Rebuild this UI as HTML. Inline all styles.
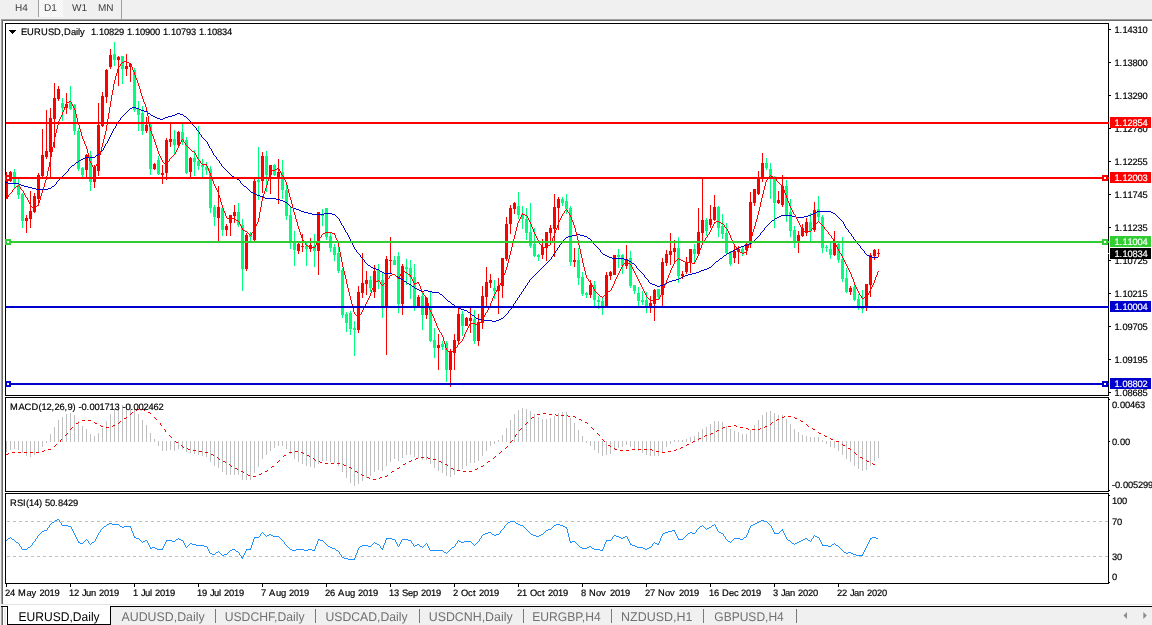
<!DOCTYPE html>
<html lang="en"><head><meta charset="utf-8"><title>EURUSD,Daily</title>
<style>
html,body{margin:0;padding:0;background:#f0f0f0;overflow:hidden}
body{width:1152px;height:625px;position:relative;font-family:"Liberation Sans",sans-serif}
svg{position:absolute;left:0;top:0;display:block}
text{font-family:"Liberation Sans",sans-serif;font-size:9.33px;fill:#000;white-space:pre;stroke:#000;stroke-width:.18px;text-rendering:geometricPrecision}
.wt{fill:#fff;stroke:#fff}
.ax{font-size:9.33px}
.tb{font-size:10px;fill:#3c3c3c;stroke:none}
.tab{font-size:12.6px;fill:#707070;stroke:none}
.tabA{font-size:12.6px;fill:#000;stroke:none}
.w{fill:#fff}
</style></head><body>
<svg width="1152" height="625" viewBox="0 0 1152 625">
<g shape-rendering="crispEdges">
<rect x="0" y="0" width="1152" height="625" fill="#f0f0f0"/>
<rect x="1" y="19" width="1151" height="1" fill="#a0a0a0"/>
<rect x="2" y="20" width="1150" height="1" fill="#696969"/>
<rect x="1" y="19" width="1" height="585" fill="#a0a0a0"/>
<rect x="2" y="20" width="1" height="584" fill="#696969"/>
<rect x="3" y="21" width="1149" height="585" fill="#fff"/>
<rect x="2" y="604" width="1150" height="1" fill="#e3e3e3"/>
<rect x="1" y="605" width="2" height="1" fill="#f0f0f0"/>
<rect x="1" y="606" width="1151" height="1" fill="#000"/>
<rect x="38" y="0" width="1" height="17" fill="#a0a0a0"/>
<defs><pattern id="ck" width="2" height="2" patternUnits="userSpaceOnUse"><rect width="2" height="2" fill="#f0f0f0"/><rect width="1" height="1" fill="#fff"/><rect x="1" y="1" width="1" height="1" fill="#fff"/></pattern></defs>
<rect x="39" y="0" width="24" height="17" fill="url(#ck)"/>
<rect x="121" y="0" width="1" height="19" fill="#a0a0a0"/>
<rect x="1109" y="29" width="2" height="1" fill="#000"/>
<rect x="1109" y="62" width="2" height="1" fill="#000"/>
<rect x="1109" y="95" width="2" height="1" fill="#000"/>
<rect x="1109" y="128" width="2" height="1" fill="#000"/>
<rect x="1109" y="161" width="2" height="1" fill="#000"/>
<rect x="1109" y="194" width="2" height="1" fill="#000"/>
<rect x="1109" y="227" width="2" height="1" fill="#000"/>
<rect x="1109" y="260" width="2" height="1" fill="#000"/>
<rect x="1109" y="293" width="2" height="1" fill="#000"/>
<rect x="1109" y="326" width="2" height="1" fill="#000"/>
<rect x="1109" y="359" width="2" height="1" fill="#000"/>
<rect x="1109" y="392" width="2" height="1" fill="#000"/>
<rect x="1109" y="399" width="1" height="1" fill="#000"/>
<rect x="1109" y="441" width="1" height="1" fill="#000"/>
<rect x="1109" y="490" width="1" height="1" fill="#000"/>
<rect x="1109" y="495" width="1" height="1" fill="#000"/>
<rect x="1109" y="582" width="1" height="1" fill="#000"/>
<rect x="6" y="584" width="1" height="3" fill="#000"/>
<rect x="70" y="584" width="1" height="3" fill="#000"/>
<rect x="134" y="584" width="1" height="3" fill="#000"/>
<rect x="198" y="584" width="1" height="3" fill="#000"/>
<rect x="262" y="584" width="1" height="3" fill="#000"/>
<rect x="326" y="584" width="1" height="3" fill="#000"/>
<rect x="390" y="584" width="1" height="3" fill="#000"/>
<rect x="454" y="584" width="1" height="3" fill="#000"/>
<rect x="518" y="584" width="1" height="3" fill="#000"/>
<rect x="582" y="584" width="1" height="3" fill="#000"/>
<rect x="646" y="584" width="1" height="3" fill="#000"/>
<rect x="710" y="584" width="1" height="3" fill="#000"/>
<rect x="774" y="584" width="1" height="3" fill="#000"/>
<rect x="838" y="584" width="1" height="3" fill="#000"/>
<line x1="7" x2="1108" y1="521.5" y2="521.5" stroke="#c0c0c0" stroke-width="1" stroke-dasharray="3,3"/>
<line x1="7" x2="1108" y1="556.5" y2="556.5" stroke="#c0c0c0" stroke-width="1" stroke-dasharray="3,3"/>
</g>
<g shape-rendering="crispEdges">
<rect x="6" y="441" width="1" height="11" fill="#c0c0c0"/>
<rect x="10" y="441" width="1" height="9" fill="#c0c0c0"/>
<rect x="14" y="441" width="1" height="8" fill="#c0c0c0"/>
<rect x="18" y="441" width="1" height="9" fill="#c0c0c0"/>
<rect x="22" y="441" width="1" height="12" fill="#c0c0c0"/>
<rect x="26" y="441" width="1" height="15" fill="#c0c0c0"/>
<rect x="30" y="441" width="1" height="16" fill="#c0c0c0"/>
<rect x="34" y="441" width="1" height="14" fill="#c0c0c0"/>
<rect x="38" y="441" width="1" height="11" fill="#c0c0c0"/>
<rect x="42" y="441" width="1" height="6" fill="#c0c0c0"/>
<rect x="46" y="441" width="1" height="2" fill="#c0c0c0"/>
<rect x="50" y="434" width="1" height="8" fill="#c0c0c0"/>
<rect x="54" y="427" width="1" height="15" fill="#c0c0c0"/>
<rect x="58" y="420" width="1" height="22" fill="#c0c0c0"/>
<rect x="62" y="417" width="1" height="25" fill="#c0c0c0"/>
<rect x="66" y="414" width="1" height="28" fill="#c0c0c0"/>
<rect x="70" y="413" width="1" height="29" fill="#c0c0c0"/>
<rect x="74" y="415" width="1" height="27" fill="#c0c0c0"/>
<rect x="78" y="421" width="1" height="21" fill="#c0c0c0"/>
<rect x="82" y="426" width="1" height="16" fill="#c0c0c0"/>
<rect x="86" y="429" width="1" height="13" fill="#c0c0c0"/>
<rect x="90" y="434" width="1" height="8" fill="#c0c0c0"/>
<rect x="94" y="436" width="1" height="6" fill="#c0c0c0"/>
<rect x="98" y="433" width="1" height="9" fill="#c0c0c0"/>
<rect x="102" y="428" width="1" height="14" fill="#c0c0c0"/>
<rect x="106" y="421" width="1" height="21" fill="#c0c0c0"/>
<rect x="110" y="414" width="1" height="28" fill="#c0c0c0"/>
<rect x="114" y="410" width="1" height="32" fill="#c0c0c0"/>
<rect x="118" y="406" width="1" height="36" fill="#c0c0c0"/>
<rect x="122" y="405" width="1" height="37" fill="#c0c0c0"/>
<rect x="126" y="404" width="1" height="38" fill="#c0c0c0"/>
<rect x="130" y="404" width="1" height="38" fill="#c0c0c0"/>
<rect x="134" y="409" width="1" height="33" fill="#c0c0c0"/>
<rect x="138" y="414" width="1" height="28" fill="#c0c0c0"/>
<rect x="142" y="420" width="1" height="22" fill="#c0c0c0"/>
<rect x="146" y="425" width="1" height="17" fill="#c0c0c0"/>
<rect x="150" y="433" width="1" height="9" fill="#c0c0c0"/>
<rect x="154" y="439" width="1" height="3" fill="#c0c0c0"/>
<rect x="158" y="441" width="1" height="5" fill="#c0c0c0"/>
<rect x="162" y="441" width="1" height="10" fill="#c0c0c0"/>
<rect x="166" y="441" width="1" height="10" fill="#c0c0c0"/>
<rect x="170" y="441" width="1" height="9" fill="#c0c0c0"/>
<rect x="174" y="441" width="1" height="10" fill="#c0c0c0"/>
<rect x="178" y="441" width="1" height="8" fill="#c0c0c0"/>
<rect x="182" y="441" width="1" height="8" fill="#c0c0c0"/>
<rect x="186" y="441" width="1" height="11" fill="#c0c0c0"/>
<rect x="190" y="441" width="1" height="12" fill="#c0c0c0"/>
<rect x="194" y="441" width="1" height="13" fill="#c0c0c0"/>
<rect x="198" y="441" width="1" height="14" fill="#c0c0c0"/>
<rect x="202" y="441" width="1" height="15" fill="#c0c0c0"/>
<rect x="206" y="441" width="1" height="16" fill="#c0c0c0"/>
<rect x="210" y="441" width="1" height="21" fill="#c0c0c0"/>
<rect x="214" y="441" width="1" height="25" fill="#c0c0c0"/>
<rect x="218" y="441" width="1" height="27" fill="#c0c0c0"/>
<rect x="222" y="441" width="1" height="31" fill="#c0c0c0"/>
<rect x="226" y="441" width="1" height="34" fill="#c0c0c0"/>
<rect x="230" y="441" width="1" height="34" fill="#c0c0c0"/>
<rect x="234" y="441" width="1" height="34" fill="#c0c0c0"/>
<rect x="238" y="441" width="1" height="34" fill="#c0c0c0"/>
<rect x="242" y="441" width="1" height="39" fill="#c0c0c0"/>
<rect x="246" y="441" width="1" height="39" fill="#c0c0c0"/>
<rect x="250" y="441" width="1" height="39" fill="#c0c0c0"/>
<rect x="254" y="441" width="1" height="32" fill="#c0c0c0"/>
<rect x="258" y="441" width="1" height="26" fill="#c0c0c0"/>
<rect x="262" y="441" width="1" height="18" fill="#c0c0c0"/>
<rect x="266" y="441" width="1" height="14" fill="#c0c0c0"/>
<rect x="270" y="441" width="1" height="10" fill="#c0c0c0"/>
<rect x="274" y="441" width="1" height="7" fill="#c0c0c0"/>
<rect x="278" y="441" width="1" height="5" fill="#c0c0c0"/>
<rect x="282" y="441" width="1" height="5" fill="#c0c0c0"/>
<rect x="286" y="441" width="1" height="8" fill="#c0c0c0"/>
<rect x="290" y="441" width="1" height="13" fill="#c0c0c0"/>
<rect x="294" y="441" width="1" height="18" fill="#c0c0c0"/>
<rect x="298" y="441" width="1" height="21" fill="#c0c0c0"/>
<rect x="302" y="441" width="1" height="23" fill="#c0c0c0"/>
<rect x="306" y="441" width="1" height="25" fill="#c0c0c0"/>
<rect x="310" y="441" width="1" height="26" fill="#c0c0c0"/>
<rect x="314" y="441" width="1" height="27" fill="#c0c0c0"/>
<rect x="318" y="441" width="1" height="23" fill="#c0c0c0"/>
<rect x="322" y="441" width="1" height="20" fill="#c0c0c0"/>
<rect x="326" y="441" width="1" height="20" fill="#c0c0c0"/>
<rect x="330" y="441" width="1" height="21" fill="#c0c0c0"/>
<rect x="334" y="441" width="1" height="22" fill="#c0c0c0"/>
<rect x="338" y="441" width="1" height="25" fill="#c0c0c0"/>
<rect x="342" y="441" width="1" height="31" fill="#c0c0c0"/>
<rect x="346" y="441" width="1" height="37" fill="#c0c0c0"/>
<rect x="350" y="441" width="1" height="42" fill="#c0c0c0"/>
<rect x="354" y="441" width="1" height="45" fill="#c0c0c0"/>
<rect x="358" y="441" width="1" height="43" fill="#c0c0c0"/>
<rect x="362" y="441" width="1" height="40" fill="#c0c0c0"/>
<rect x="366" y="441" width="1" height="37" fill="#c0c0c0"/>
<rect x="370" y="441" width="1" height="35" fill="#c0c0c0"/>
<rect x="374" y="441" width="1" height="31" fill="#c0c0c0"/>
<rect x="378" y="441" width="1" height="29" fill="#c0c0c0"/>
<rect x="382" y="441" width="1" height="30" fill="#c0c0c0"/>
<rect x="386" y="441" width="1" height="25" fill="#c0c0c0"/>
<rect x="390" y="441" width="1" height="21" fill="#c0c0c0"/>
<rect x="394" y="441" width="1" height="18" fill="#c0c0c0"/>
<rect x="398" y="441" width="1" height="20" fill="#c0c0c0"/>
<rect x="402" y="441" width="1" height="17" fill="#c0c0c0"/>
<rect x="406" y="441" width="1" height="14" fill="#c0c0c0"/>
<rect x="410" y="441" width="1" height="14" fill="#c0c0c0"/>
<rect x="414" y="441" width="1" height="16" fill="#c0c0c0"/>
<rect x="418" y="441" width="1" height="17" fill="#c0c0c0"/>
<rect x="422" y="441" width="1" height="19" fill="#c0c0c0"/>
<rect x="426" y="441" width="1" height="19" fill="#c0c0c0"/>
<rect x="430" y="441" width="1" height="23" fill="#c0c0c0"/>
<rect x="434" y="441" width="1" height="27" fill="#c0c0c0"/>
<rect x="438" y="441" width="1" height="30" fill="#c0c0c0"/>
<rect x="442" y="441" width="1" height="32" fill="#c0c0c0"/>
<rect x="446" y="441" width="1" height="35" fill="#c0c0c0"/>
<rect x="450" y="441" width="1" height="36" fill="#c0c0c0"/>
<rect x="454" y="441" width="1" height="34" fill="#c0c0c0"/>
<rect x="458" y="441" width="1" height="30" fill="#c0c0c0"/>
<rect x="462" y="441" width="1" height="28" fill="#c0c0c0"/>
<rect x="466" y="441" width="1" height="25" fill="#c0c0c0"/>
<rect x="470" y="441" width="1" height="22" fill="#c0c0c0"/>
<rect x="474" y="441" width="1" height="22" fill="#c0c0c0"/>
<rect x="478" y="441" width="1" height="20" fill="#c0c0c0"/>
<rect x="482" y="441" width="1" height="15" fill="#c0c0c0"/>
<rect x="486" y="441" width="1" height="10" fill="#c0c0c0"/>
<rect x="490" y="441" width="1" height="5" fill="#c0c0c0"/>
<rect x="494" y="441" width="1" height="3" fill="#c0c0c0"/>
<rect x="498" y="440" width="1" height="2" fill="#c0c0c0"/>
<rect x="502" y="435" width="1" height="7" fill="#c0c0c0"/>
<rect x="506" y="428" width="1" height="14" fill="#c0c0c0"/>
<rect x="510" y="420" width="1" height="22" fill="#c0c0c0"/>
<rect x="514" y="414" width="1" height="28" fill="#c0c0c0"/>
<rect x="518" y="410" width="1" height="32" fill="#c0c0c0"/>
<rect x="522" y="408" width="1" height="34" fill="#c0c0c0"/>
<rect x="526" y="409" width="1" height="33" fill="#c0c0c0"/>
<rect x="530" y="411" width="1" height="31" fill="#c0c0c0"/>
<rect x="534" y="414" width="1" height="28" fill="#c0c0c0"/>
<rect x="538" y="417" width="1" height="25" fill="#c0c0c0"/>
<rect x="542" y="419" width="1" height="23" fill="#c0c0c0"/>
<rect x="546" y="419" width="1" height="23" fill="#c0c0c0"/>
<rect x="550" y="418" width="1" height="24" fill="#c0c0c0"/>
<rect x="554" y="416" width="1" height="26" fill="#c0c0c0"/>
<rect x="558" y="413" width="1" height="29" fill="#c0c0c0"/>
<rect x="562" y="412" width="1" height="30" fill="#c0c0c0"/>
<rect x="566" y="412" width="1" height="30" fill="#c0c0c0"/>
<rect x="570" y="418" width="1" height="24" fill="#c0c0c0"/>
<rect x="574" y="423" width="1" height="19" fill="#c0c0c0"/>
<rect x="578" y="430" width="1" height="12" fill="#c0c0c0"/>
<rect x="582" y="436" width="1" height="6" fill="#c0c0c0"/>
<rect x="586" y="441" width="1" height="2" fill="#c0c0c0"/>
<rect x="590" y="441" width="1" height="5" fill="#c0c0c0"/>
<rect x="594" y="441" width="1" height="9" fill="#c0c0c0"/>
<rect x="598" y="441" width="1" height="12" fill="#c0c0c0"/>
<rect x="602" y="441" width="1" height="15" fill="#c0c0c0"/>
<rect x="606" y="441" width="1" height="14" fill="#c0c0c0"/>
<rect x="610" y="441" width="1" height="13" fill="#c0c0c0"/>
<rect x="614" y="441" width="1" height="9" fill="#c0c0c0"/>
<rect x="618" y="441" width="1" height="7" fill="#c0c0c0"/>
<rect x="622" y="441" width="1" height="6" fill="#c0c0c0"/>
<rect x="626" y="441" width="1" height="4" fill="#c0c0c0"/>
<rect x="630" y="441" width="1" height="6" fill="#c0c0c0"/>
<rect x="634" y="441" width="1" height="8" fill="#c0c0c0"/>
<rect x="638" y="441" width="1" height="10" fill="#c0c0c0"/>
<rect x="642" y="441" width="1" height="12" fill="#c0c0c0"/>
<rect x="646" y="441" width="1" height="14" fill="#c0c0c0"/>
<rect x="650" y="441" width="1" height="15" fill="#c0c0c0"/>
<rect x="654" y="441" width="1" height="15" fill="#c0c0c0"/>
<rect x="658" y="441" width="1" height="15" fill="#c0c0c0"/>
<rect x="662" y="441" width="1" height="11" fill="#c0c0c0"/>
<rect x="666" y="441" width="1" height="6" fill="#c0c0c0"/>
<rect x="670" y="441" width="1" height="3" fill="#c0c0c0"/>
<rect x="674" y="440" width="1" height="2" fill="#c0c0c0"/>
<rect x="678" y="440" width="1" height="2" fill="#c0c0c0"/>
<rect x="682" y="440" width="1" height="2" fill="#c0c0c0"/>
<rect x="686" y="439" width="1" height="3" fill="#c0c0c0"/>
<rect x="690" y="437" width="1" height="5" fill="#c0c0c0"/>
<rect x="694" y="436" width="1" height="6" fill="#c0c0c0"/>
<rect x="698" y="432" width="1" height="10" fill="#c0c0c0"/>
<rect x="702" y="429" width="1" height="13" fill="#c0c0c0"/>
<rect x="706" y="427" width="1" height="15" fill="#c0c0c0"/>
<rect x="710" y="424" width="1" height="18" fill="#c0c0c0"/>
<rect x="714" y="421" width="1" height="21" fill="#c0c0c0"/>
<rect x="718" y="421" width="1" height="21" fill="#c0c0c0"/>
<rect x="722" y="422" width="1" height="20" fill="#c0c0c0"/>
<rect x="726" y="426" width="1" height="16" fill="#c0c0c0"/>
<rect x="730" y="429" width="1" height="13" fill="#c0c0c0"/>
<rect x="734" y="431" width="1" height="11" fill="#c0c0c0"/>
<rect x="738" y="432" width="1" height="10" fill="#c0c0c0"/>
<rect x="742" y="434" width="1" height="8" fill="#c0c0c0"/>
<rect x="746" y="434" width="1" height="8" fill="#c0c0c0"/>
<rect x="750" y="430" width="1" height="12" fill="#c0c0c0"/>
<rect x="754" y="425" width="1" height="17" fill="#c0c0c0"/>
<rect x="758" y="420" width="1" height="22" fill="#c0c0c0"/>
<rect x="762" y="415" width="1" height="27" fill="#c0c0c0"/>
<rect x="766" y="412" width="1" height="30" fill="#c0c0c0"/>
<rect x="770" y="411" width="1" height="31" fill="#c0c0c0"/>
<rect x="774" y="413" width="1" height="29" fill="#c0c0c0"/>
<rect x="778" y="415" width="1" height="27" fill="#c0c0c0"/>
<rect x="782" y="415" width="1" height="27" fill="#c0c0c0"/>
<rect x="786" y="419" width="1" height="23" fill="#c0c0c0"/>
<rect x="790" y="424" width="1" height="18" fill="#c0c0c0"/>
<rect x="794" y="429" width="1" height="13" fill="#c0c0c0"/>
<rect x="798" y="432" width="1" height="10" fill="#c0c0c0"/>
<rect x="802" y="435" width="1" height="7" fill="#c0c0c0"/>
<rect x="806" y="436" width="1" height="6" fill="#c0c0c0"/>
<rect x="810" y="437" width="1" height="5" fill="#c0c0c0"/>
<rect x="814" y="437" width="1" height="5" fill="#c0c0c0"/>
<rect x="818" y="437" width="1" height="5" fill="#c0c0c0"/>
<rect x="822" y="440" width="1" height="2" fill="#c0c0c0"/>
<rect x="826" y="441" width="1" height="3" fill="#c0c0c0"/>
<rect x="830" y="441" width="1" height="6" fill="#c0c0c0"/>
<rect x="834" y="441" width="1" height="7" fill="#c0c0c0"/>
<rect x="838" y="441" width="1" height="10" fill="#c0c0c0"/>
<rect x="842" y="441" width="1" height="14" fill="#c0c0c0"/>
<rect x="846" y="441" width="1" height="18" fill="#c0c0c0"/>
<rect x="850" y="441" width="1" height="21" fill="#c0c0c0"/>
<rect x="854" y="441" width="1" height="25" fill="#c0c0c0"/>
<rect x="858" y="441" width="1" height="28" fill="#c0c0c0"/>
<rect x="862" y="441" width="1" height="30" fill="#c0c0c0"/>
<rect x="866" y="441" width="1" height="29" fill="#c0c0c0"/>
<rect x="870" y="441" width="1" height="25" fill="#c0c0c0"/>
<rect x="874" y="441" width="1" height="20" fill="#c0c0c0"/>
<rect x="878" y="441" width="1" height="17" fill="#c0c0c0"/>
<rect x="6" y="172" width="1" height="27" fill="#ff0000"/>
<rect x="5" y="176" width="3" height="23" fill="#ff0000"/>
<rect x="10" y="171" width="1" height="11" fill="#ff0000"/>
<rect x="9" y="172" width="3" height="9" fill="#ff0000"/>
<rect x="14" y="169" width="1" height="19" fill="#00ff7f"/>
<rect x="13" y="172" width="3" height="12" fill="#00ff7f"/>
<rect x="18" y="179" width="1" height="20" fill="#00ff7f"/>
<rect x="17" y="185" width="3" height="10" fill="#00ff7f"/>
<rect x="22" y="193" width="1" height="35" fill="#00ff7f"/>
<rect x="21" y="194" width="3" height="27" fill="#00ff7f"/>
<rect x="26" y="215" width="1" height="18" fill="#ff0000"/>
<rect x="25" y="218" width="3" height="3" fill="#ff0000"/>
<rect x="30" y="191" width="1" height="37" fill="#ff0000"/>
<rect x="29" y="211" width="3" height="8" fill="#ff0000"/>
<rect x="34" y="193" width="1" height="20" fill="#ff0000"/>
<rect x="33" y="196" width="3" height="16" fill="#ff0000"/>
<rect x="38" y="173" width="1" height="33" fill="#ff0000"/>
<rect x="37" y="175" width="3" height="24" fill="#ff0000"/>
<rect x="42" y="129" width="1" height="48" fill="#ff0000"/>
<rect x="41" y="155" width="3" height="21" fill="#ff0000"/>
<rect x="46" y="110" width="1" height="49" fill="#ff0000"/>
<rect x="45" y="151" width="3" height="6" fill="#ff0000"/>
<rect x="50" y="108" width="1" height="69" fill="#ff0000"/>
<rect x="49" y="118" width="3" height="34" fill="#ff0000"/>
<rect x="54" y="83" width="1" height="65" fill="#ff0000"/>
<rect x="53" y="98" width="3" height="21" fill="#ff0000"/>
<rect x="58" y="86" width="1" height="15" fill="#ff0000"/>
<rect x="57" y="89" width="3" height="10" fill="#ff0000"/>
<rect x="62" y="98" width="1" height="23" fill="#00ff7f"/>
<rect x="61" y="103" width="3" height="5" fill="#00ff7f"/>
<rect x="66" y="93" width="1" height="21" fill="#ff0000"/>
<rect x="65" y="104" width="3" height="4" fill="#ff0000"/>
<rect x="70" y="86" width="1" height="24" fill="#00ff7f"/>
<rect x="69" y="102" width="3" height="7" fill="#00ff7f"/>
<rect x="74" y="104" width="1" height="31" fill="#00ff7f"/>
<rect x="73" y="105" width="3" height="26" fill="#00ff7f"/>
<rect x="78" y="128" width="1" height="43" fill="#00ff7f"/>
<rect x="77" y="131" width="3" height="38" fill="#00ff7f"/>
<rect x="82" y="167" width="1" height="10" fill="#00ff7f"/>
<rect x="81" y="168" width="3" height="7" fill="#00ff7f"/>
<rect x="86" y="154" width="1" height="23" fill="#ff0000"/>
<rect x="85" y="155" width="3" height="15" fill="#ff0000"/>
<rect x="90" y="151" width="1" height="40" fill="#00ff7f"/>
<rect x="89" y="155" width="3" height="27" fill="#00ff7f"/>
<rect x="94" y="165" width="1" height="23" fill="#ff0000"/>
<rect x="93" y="167" width="3" height="15" fill="#ff0000"/>
<rect x="98" y="103" width="1" height="73" fill="#ff0000"/>
<rect x="97" y="125" width="3" height="46" fill="#ff0000"/>
<rect x="102" y="92" width="1" height="35" fill="#ff0000"/>
<rect x="101" y="96" width="3" height="30" fill="#ff0000"/>
<rect x="106" y="69" width="1" height="34" fill="#ff0000"/>
<rect x="105" y="70" width="3" height="27" fill="#ff0000"/>
<rect x="110" y="49" width="1" height="20" fill="#ff0000"/>
<rect x="109" y="55" width="3" height="12" fill="#ff0000"/>
<rect x="114" y="42" width="1" height="24" fill="#00ff7f"/>
<rect x="113" y="54" width="3" height="6" fill="#00ff7f"/>
<rect x="118" y="56" width="1" height="30" fill="#ff0000"/>
<rect x="117" y="57" width="3" height="3" fill="#ff0000"/>
<rect x="122" y="56" width="1" height="28" fill="#00ff7f"/>
<rect x="121" y="56" width="3" height="13" fill="#00ff7f"/>
<rect x="126" y="54" width="1" height="22" fill="#ff0000"/>
<rect x="125" y="66" width="3" height="3" fill="#ff0000"/>
<rect x="130" y="63" width="1" height="19" fill="#ff0000"/>
<rect x="129" y="64" width="3" height="3" fill="#ff0000"/>
<rect x="134" y="68" width="1" height="44" fill="#00ff7f"/>
<rect x="133" y="70" width="3" height="40" fill="#00ff7f"/>
<rect x="138" y="101" width="1" height="30" fill="#00ff7f"/>
<rect x="137" y="109" width="3" height="6" fill="#00ff7f"/>
<rect x="142" y="106" width="1" height="29" fill="#00ff7f"/>
<rect x="141" y="113" width="3" height="18" fill="#00ff7f"/>
<rect x="146" y="117" width="1" height="16" fill="#ff0000"/>
<rect x="145" y="125" width="3" height="6" fill="#ff0000"/>
<rect x="150" y="124" width="1" height="51" fill="#00ff7f"/>
<rect x="149" y="125" width="3" height="44" fill="#00ff7f"/>
<rect x="154" y="163" width="1" height="7" fill="#ff0000"/>
<rect x="153" y="164" width="3" height="5" fill="#ff0000"/>
<rect x="158" y="156" width="1" height="19" fill="#00ff7f"/>
<rect x="157" y="160" width="3" height="14" fill="#00ff7f"/>
<rect x="162" y="165" width="1" height="19" fill="#ff0000"/>
<rect x="161" y="173" width="3" height="2" fill="#ff0000"/>
<rect x="166" y="138" width="1" height="42" fill="#ff0000"/>
<rect x="165" y="140" width="3" height="33" fill="#ff0000"/>
<rect x="170" y="124" width="1" height="23" fill="#ff0000"/>
<rect x="169" y="139" width="3" height="3" fill="#ff0000"/>
<rect x="174" y="130" width="1" height="24" fill="#00ff7f"/>
<rect x="173" y="139" width="3" height="6" fill="#00ff7f"/>
<rect x="178" y="131" width="1" height="15" fill="#ff0000"/>
<rect x="177" y="132" width="3" height="13" fill="#ff0000"/>
<rect x="182" y="124" width="1" height="21" fill="#00ff7f"/>
<rect x="181" y="132" width="3" height="8" fill="#00ff7f"/>
<rect x="186" y="137" width="1" height="37" fill="#00ff7f"/>
<rect x="185" y="140" width="3" height="33" fill="#00ff7f"/>
<rect x="190" y="157" width="1" height="22" fill="#ff0000"/>
<rect x="189" y="158" width="3" height="14" fill="#ff0000"/>
<rect x="194" y="150" width="1" height="26" fill="#00ff7f"/>
<rect x="193" y="158" width="3" height="4" fill="#00ff7f"/>
<rect x="198" y="126" width="1" height="44" fill="#00ff7f"/>
<rect x="197" y="161" width="3" height="5" fill="#00ff7f"/>
<rect x="202" y="159" width="1" height="20" fill="#00ff7f"/>
<rect x="201" y="165" width="3" height="2" fill="#00ff7f"/>
<rect x="206" y="162" width="1" height="13" fill="#00ff7f"/>
<rect x="205" y="167" width="3" height="3" fill="#00ff7f"/>
<rect x="210" y="166" width="1" height="47" fill="#00ff7f"/>
<rect x="209" y="169" width="3" height="39" fill="#00ff7f"/>
<rect x="214" y="205" width="1" height="21" fill="#00ff7f"/>
<rect x="213" y="207" width="3" height="10" fill="#00ff7f"/>
<rect x="218" y="186" width="1" height="55" fill="#ff0000"/>
<rect x="217" y="207" width="3" height="11" fill="#ff0000"/>
<rect x="222" y="207" width="1" height="29" fill="#00ff7f"/>
<rect x="221" y="208" width="3" height="22" fill="#00ff7f"/>
<rect x="226" y="224" width="1" height="12" fill="#ff0000"/>
<rect x="225" y="226" width="3" height="4" fill="#ff0000"/>
<rect x="230" y="215" width="1" height="21" fill="#ff0000"/>
<rect x="229" y="215" width="3" height="8" fill="#ff0000"/>
<rect x="234" y="205" width="1" height="18" fill="#ff0000"/>
<rect x="233" y="212" width="3" height="4" fill="#ff0000"/>
<rect x="238" y="203" width="1" height="24" fill="#00ff7f"/>
<rect x="237" y="212" width="3" height="13" fill="#00ff7f"/>
<rect x="242" y="219" width="1" height="72" fill="#00ff7f"/>
<rect x="241" y="225" width="3" height="44" fill="#00ff7f"/>
<rect x="246" y="233" width="1" height="38" fill="#ff0000"/>
<rect x="245" y="235" width="3" height="34" fill="#ff0000"/>
<rect x="250" y="232" width="1" height="9" fill="#00ff7f"/>
<rect x="249" y="234" width="3" height="3" fill="#00ff7f"/>
<rect x="254" y="179" width="1" height="62" fill="#ff0000"/>
<rect x="253" y="181" width="3" height="59" fill="#ff0000"/>
<rect x="258" y="147" width="1" height="53" fill="#00ff7f"/>
<rect x="257" y="180" width="3" height="2" fill="#00ff7f"/>
<rect x="262" y="152" width="1" height="41" fill="#ff0000"/>
<rect x="261" y="156" width="3" height="25" fill="#ff0000"/>
<rect x="266" y="151" width="1" height="41" fill="#00ff7f"/>
<rect x="265" y="156" width="3" height="19" fill="#00ff7f"/>
<rect x="270" y="165" width="1" height="29" fill="#ff0000"/>
<rect x="269" y="165" width="3" height="10" fill="#ff0000"/>
<rect x="274" y="164" width="1" height="12" fill="#00ff7f"/>
<rect x="273" y="165" width="3" height="10" fill="#00ff7f"/>
<rect x="278" y="159" width="1" height="45" fill="#ff0000"/>
<rect x="277" y="172" width="3" height="6" fill="#ff0000"/>
<rect x="282" y="160" width="1" height="39" fill="#00ff7f"/>
<rect x="281" y="172" width="3" height="18" fill="#00ff7f"/>
<rect x="286" y="184" width="1" height="36" fill="#00ff7f"/>
<rect x="285" y="190" width="3" height="26" fill="#00ff7f"/>
<rect x="290" y="206" width="1" height="43" fill="#00ff7f"/>
<rect x="289" y="215" width="3" height="26" fill="#00ff7f"/>
<rect x="294" y="231" width="1" height="35" fill="#00ff7f"/>
<rect x="293" y="243" width="3" height="7" fill="#00ff7f"/>
<rect x="298" y="243" width="1" height="11" fill="#ff0000"/>
<rect x="297" y="244" width="3" height="7" fill="#ff0000"/>
<rect x="302" y="234" width="1" height="18" fill="#ff0000"/>
<rect x="301" y="246" width="3" height="1" fill="#ff0000"/>
<rect x="306" y="243" width="1" height="23" fill="#00ff7f"/>
<rect x="305" y="246" width="3" height="3" fill="#00ff7f"/>
<rect x="310" y="238" width="1" height="14" fill="#ff0000"/>
<rect x="309" y="245" width="3" height="4" fill="#ff0000"/>
<rect x="314" y="234" width="1" height="33" fill="#00ff7f"/>
<rect x="313" y="246" width="3" height="5" fill="#00ff7f"/>
<rect x="318" y="212" width="1" height="63" fill="#ff0000"/>
<rect x="317" y="212" width="3" height="39" fill="#ff0000"/>
<rect x="322" y="209" width="1" height="17" fill="#00ff7f"/>
<rect x="321" y="214" width="3" height="2" fill="#00ff7f"/>
<rect x="326" y="208" width="1" height="32" fill="#00ff7f"/>
<rect x="325" y="208" width="3" height="29" fill="#00ff7f"/>
<rect x="330" y="233" width="1" height="19" fill="#00ff7f"/>
<rect x="329" y="236" width="3" height="12" fill="#00ff7f"/>
<rect x="334" y="244" width="1" height="17" fill="#00ff7f"/>
<rect x="333" y="247" width="3" height="8" fill="#00ff7f"/>
<rect x="338" y="247" width="1" height="26" fill="#00ff7f"/>
<rect x="337" y="253" width="3" height="18" fill="#00ff7f"/>
<rect x="342" y="268" width="1" height="50" fill="#00ff7f"/>
<rect x="341" y="270" width="3" height="45" fill="#00ff7f"/>
<rect x="346" y="312" width="1" height="20" fill="#00ff7f"/>
<rect x="345" y="314" width="3" height="9" fill="#00ff7f"/>
<rect x="350" y="311" width="1" height="24" fill="#00ff7f"/>
<rect x="349" y="313" width="3" height="16" fill="#00ff7f"/>
<rect x="354" y="321" width="1" height="35" fill="#00ff7f"/>
<rect x="353" y="328" width="3" height="2" fill="#00ff7f"/>
<rect x="358" y="286" width="1" height="47" fill="#ff0000"/>
<rect x="357" y="292" width="3" height="38" fill="#ff0000"/>
<rect x="362" y="253" width="1" height="45" fill="#ff0000"/>
<rect x="361" y="283" width="3" height="10" fill="#ff0000"/>
<rect x="366" y="271" width="1" height="24" fill="#ff0000"/>
<rect x="365" y="280" width="3" height="4" fill="#ff0000"/>
<rect x="370" y="276" width="1" height="16" fill="#00ff7f"/>
<rect x="369" y="280" width="3" height="8" fill="#00ff7f"/>
<rect x="374" y="265" width="1" height="33" fill="#ff0000"/>
<rect x="373" y="271" width="3" height="21" fill="#ff0000"/>
<rect x="378" y="264" width="1" height="25" fill="#00ff7f"/>
<rect x="377" y="270" width="3" height="11" fill="#00ff7f"/>
<rect x="382" y="273" width="1" height="45" fill="#00ff7f"/>
<rect x="381" y="280" width="3" height="27" fill="#00ff7f"/>
<rect x="386" y="256" width="1" height="99" fill="#ff0000"/>
<rect x="385" y="259" width="3" height="48" fill="#ff0000"/>
<rect x="390" y="237" width="1" height="36" fill="#ff0000"/>
<rect x="389" y="260" width="3" height="1" fill="#ff0000"/>
<rect x="394" y="256" width="1" height="9" fill="#00ff7f"/>
<rect x="393" y="260" width="3" height="5" fill="#00ff7f"/>
<rect x="398" y="252" width="1" height="61" fill="#00ff7f"/>
<rect x="397" y="256" width="3" height="48" fill="#00ff7f"/>
<rect x="402" y="264" width="1" height="51" fill="#ff0000"/>
<rect x="401" y="266" width="3" height="38" fill="#ff0000"/>
<rect x="406" y="259" width="1" height="26" fill="#00ff7f"/>
<rect x="405" y="267" width="3" height="2" fill="#00ff7f"/>
<rect x="410" y="260" width="1" height="39" fill="#00ff7f"/>
<rect x="409" y="268" width="3" height="9" fill="#00ff7f"/>
<rect x="414" y="264" width="1" height="47" fill="#00ff7f"/>
<rect x="413" y="277" width="3" height="29" fill="#00ff7f"/>
<rect x="418" y="295" width="1" height="13" fill="#ff0000"/>
<rect x="417" y="297" width="3" height="10" fill="#ff0000"/>
<rect x="422" y="292" width="1" height="38" fill="#00ff7f"/>
<rect x="421" y="296" width="3" height="19" fill="#00ff7f"/>
<rect x="426" y="297" width="1" height="22" fill="#ff0000"/>
<rect x="425" y="298" width="3" height="17" fill="#ff0000"/>
<rect x="430" y="292" width="1" height="50" fill="#00ff7f"/>
<rect x="429" y="308" width="3" height="33" fill="#00ff7f"/>
<rect x="434" y="328" width="1" height="30" fill="#00ff7f"/>
<rect x="433" y="340" width="3" height="8" fill="#00ff7f"/>
<rect x="438" y="334" width="1" height="36" fill="#ff0000"/>
<rect x="437" y="345" width="3" height="3" fill="#ff0000"/>
<rect x="442" y="341" width="1" height="9" fill="#00ff7f"/>
<rect x="441" y="344" width="3" height="3" fill="#00ff7f"/>
<rect x="446" y="341" width="1" height="41" fill="#00ff7f"/>
<rect x="445" y="343" width="3" height="27" fill="#00ff7f"/>
<rect x="450" y="349" width="1" height="38" fill="#ff0000"/>
<rect x="449" y="351" width="3" height="19" fill="#ff0000"/>
<rect x="454" y="334" width="1" height="36" fill="#ff0000"/>
<rect x="453" y="340" width="3" height="13" fill="#ff0000"/>
<rect x="458" y="308" width="1" height="36" fill="#ff0000"/>
<rect x="457" y="314" width="3" height="27" fill="#ff0000"/>
<rect x="462" y="311" width="1" height="25" fill="#00ff7f"/>
<rect x="461" y="314" width="3" height="12" fill="#00ff7f"/>
<rect x="466" y="317" width="1" height="9" fill="#ff0000"/>
<rect x="465" y="318" width="3" height="8" fill="#ff0000"/>
<rect x="470" y="308" width="1" height="25" fill="#ff0000"/>
<rect x="469" y="318" width="3" height="3" fill="#ff0000"/>
<rect x="474" y="310" width="1" height="34" fill="#00ff7f"/>
<rect x="473" y="319" width="3" height="22" fill="#00ff7f"/>
<rect x="478" y="314" width="1" height="32" fill="#ff0000"/>
<rect x="477" y="322" width="3" height="19" fill="#ff0000"/>
<rect x="482" y="286" width="1" height="43" fill="#ff0000"/>
<rect x="481" y="296" width="3" height="27" fill="#ff0000"/>
<rect x="486" y="267" width="1" height="39" fill="#ff0000"/>
<rect x="485" y="282" width="3" height="15" fill="#ff0000"/>
<rect x="490" y="274" width="1" height="14" fill="#ff0000"/>
<rect x="489" y="280" width="3" height="3" fill="#ff0000"/>
<rect x="494" y="280" width="1" height="19" fill="#00ff7f"/>
<rect x="493" y="288" width="3" height="3" fill="#00ff7f"/>
<rect x="498" y="278" width="1" height="36" fill="#ff0000"/>
<rect x="497" y="286" width="3" height="5" fill="#ff0000"/>
<rect x="502" y="258" width="1" height="40" fill="#ff0000"/>
<rect x="501" y="258" width="3" height="28" fill="#ff0000"/>
<rect x="506" y="217" width="1" height="44" fill="#ff0000"/>
<rect x="505" y="224" width="3" height="35" fill="#ff0000"/>
<rect x="510" y="205" width="1" height="29" fill="#ff0000"/>
<rect x="509" y="208" width="3" height="16" fill="#ff0000"/>
<rect x="514" y="202" width="1" height="12" fill="#ff0000"/>
<rect x="513" y="203" width="3" height="6" fill="#ff0000"/>
<rect x="518" y="192" width="1" height="27" fill="#00ff7f"/>
<rect x="517" y="206" width="3" height="9" fill="#00ff7f"/>
<rect x="522" y="206" width="1" height="23" fill="#00ff7f"/>
<rect x="521" y="214" width="3" height="5" fill="#00ff7f"/>
<rect x="526" y="208" width="1" height="32" fill="#00ff7f"/>
<rect x="525" y="219" width="3" height="14" fill="#00ff7f"/>
<rect x="530" y="203" width="1" height="45" fill="#00ff7f"/>
<rect x="529" y="232" width="3" height="14" fill="#00ff7f"/>
<rect x="534" y="228" width="1" height="29" fill="#00ff7f"/>
<rect x="533" y="244" width="3" height="12" fill="#00ff7f"/>
<rect x="538" y="254" width="1" height="7" fill="#00ff7f"/>
<rect x="537" y="255" width="3" height="2" fill="#00ff7f"/>
<rect x="542" y="239" width="1" height="20" fill="#ff0000"/>
<rect x="541" y="247" width="3" height="8" fill="#ff0000"/>
<rect x="546" y="232" width="1" height="29" fill="#ff0000"/>
<rect x="545" y="232" width="3" height="16" fill="#ff0000"/>
<rect x="550" y="225" width="1" height="20" fill="#ff0000"/>
<rect x="549" y="228" width="3" height="5" fill="#ff0000"/>
<rect x="554" y="194" width="1" height="63" fill="#ff0000"/>
<rect x="553" y="207" width="3" height="22" fill="#ff0000"/>
<rect x="558" y="197" width="1" height="33" fill="#ff0000"/>
<rect x="557" y="199" width="3" height="9" fill="#ff0000"/>
<rect x="562" y="197" width="1" height="9" fill="#00ff7f"/>
<rect x="561" y="199" width="3" height="4" fill="#00ff7f"/>
<rect x="566" y="194" width="1" height="20" fill="#00ff7f"/>
<rect x="565" y="201" width="3" height="8" fill="#00ff7f"/>
<rect x="570" y="206" width="1" height="60" fill="#00ff7f"/>
<rect x="569" y="208" width="3" height="54" fill="#00ff7f"/>
<rect x="574" y="248" width="1" height="19" fill="#ff0000"/>
<rect x="573" y="260" width="3" height="2" fill="#ff0000"/>
<rect x="578" y="248" width="1" height="37" fill="#00ff7f"/>
<rect x="577" y="260" width="3" height="18" fill="#00ff7f"/>
<rect x="582" y="272" width="1" height="24" fill="#00ff7f"/>
<rect x="581" y="277" width="3" height="17" fill="#00ff7f"/>
<rect x="586" y="292" width="1" height="6" fill="#00ff7f"/>
<rect x="585" y="293" width="3" height="2" fill="#00ff7f"/>
<rect x="590" y="280" width="1" height="18" fill="#ff0000"/>
<rect x="589" y="285" width="3" height="10" fill="#ff0000"/>
<rect x="594" y="281" width="1" height="25" fill="#00ff7f"/>
<rect x="593" y="285" width="3" height="15" fill="#00ff7f"/>
<rect x="598" y="296" width="1" height="13" fill="#00ff7f"/>
<rect x="597" y="300" width="3" height="2" fill="#00ff7f"/>
<rect x="602" y="298" width="1" height="17" fill="#00ff7f"/>
<rect x="601" y="301" width="3" height="5" fill="#00ff7f"/>
<rect x="606" y="272" width="1" height="36" fill="#ff0000"/>
<rect x="605" y="275" width="3" height="32" fill="#ff0000"/>
<rect x="610" y="271" width="1" height="9" fill="#ff0000"/>
<rect x="609" y="272" width="3" height="4" fill="#ff0000"/>
<rect x="614" y="255" width="1" height="20" fill="#ff0000"/>
<rect x="613" y="255" width="3" height="20" fill="#ff0000"/>
<rect x="618" y="249" width="1" height="19" fill="#00ff7f"/>
<rect x="617" y="255" width="3" height="2" fill="#00ff7f"/>
<rect x="622" y="254" width="1" height="20" fill="#00ff7f"/>
<rect x="621" y="255" width="3" height="11" fill="#00ff7f"/>
<rect x="626" y="245" width="1" height="24" fill="#ff0000"/>
<rect x="625" y="259" width="3" height="7" fill="#ff0000"/>
<rect x="630" y="251" width="1" height="37" fill="#00ff7f"/>
<rect x="629" y="258" width="3" height="28" fill="#00ff7f"/>
<rect x="634" y="285" width="1" height="9" fill="#00ff7f"/>
<rect x="633" y="285" width="3" height="6" fill="#00ff7f"/>
<rect x="638" y="287" width="1" height="19" fill="#00ff7f"/>
<rect x="637" y="293" width="3" height="8" fill="#00ff7f"/>
<rect x="642" y="291" width="1" height="14" fill="#00ff7f"/>
<rect x="641" y="300" width="3" height="2" fill="#00ff7f"/>
<rect x="646" y="292" width="1" height="21" fill="#00ff7f"/>
<rect x="645" y="300" width="3" height="7" fill="#00ff7f"/>
<rect x="650" y="296" width="1" height="17" fill="#ff0000"/>
<rect x="649" y="303" width="3" height="5" fill="#ff0000"/>
<rect x="654" y="289" width="1" height="32" fill="#ff0000"/>
<rect x="653" y="290" width="3" height="14" fill="#ff0000"/>
<rect x="658" y="289" width="1" height="10" fill="#00ff7f"/>
<rect x="657" y="289" width="3" height="8" fill="#00ff7f"/>
<rect x="662" y="258" width="1" height="48" fill="#ff0000"/>
<rect x="661" y="262" width="3" height="33" fill="#ff0000"/>
<rect x="666" y="250" width="1" height="16" fill="#ff0000"/>
<rect x="665" y="254" width="3" height="9" fill="#ff0000"/>
<rect x="670" y="233" width="1" height="32" fill="#ff0000"/>
<rect x="669" y="251" width="3" height="4" fill="#ff0000"/>
<rect x="674" y="240" width="1" height="23" fill="#ff0000"/>
<rect x="673" y="248" width="3" height="4" fill="#ff0000"/>
<rect x="678" y="237" width="1" height="46" fill="#00ff7f"/>
<rect x="677" y="248" width="3" height="28" fill="#00ff7f"/>
<rect x="682" y="271" width="1" height="8" fill="#ff0000"/>
<rect x="681" y="274" width="3" height="2" fill="#ff0000"/>
<rect x="686" y="257" width="1" height="17" fill="#ff0000"/>
<rect x="685" y="262" width="3" height="10" fill="#ff0000"/>
<rect x="690" y="249" width="1" height="24" fill="#ff0000"/>
<rect x="689" y="249" width="3" height="14" fill="#ff0000"/>
<rect x="694" y="244" width="1" height="19" fill="#00ff7f"/>
<rect x="693" y="249" width="3" height="5" fill="#00ff7f"/>
<rect x="698" y="208" width="1" height="47" fill="#ff0000"/>
<rect x="697" y="232" width="3" height="22" fill="#ff0000"/>
<rect x="702" y="179" width="1" height="66" fill="#ff0000"/>
<rect x="701" y="220" width="3" height="13" fill="#ff0000"/>
<rect x="706" y="218" width="1" height="18" fill="#00ff7f"/>
<rect x="705" y="220" width="3" height="11" fill="#00ff7f"/>
<rect x="710" y="205" width="1" height="23" fill="#ff0000"/>
<rect x="709" y="219" width="3" height="6" fill="#ff0000"/>
<rect x="714" y="195" width="1" height="26" fill="#ff0000"/>
<rect x="713" y="207" width="3" height="13" fill="#ff0000"/>
<rect x="718" y="206" width="1" height="31" fill="#00ff7f"/>
<rect x="717" y="207" width="3" height="21" fill="#00ff7f"/>
<rect x="722" y="214" width="1" height="25" fill="#00ff7f"/>
<rect x="721" y="226" width="3" height="8" fill="#00ff7f"/>
<rect x="726" y="223" width="1" height="31" fill="#00ff7f"/>
<rect x="725" y="233" width="3" height="20" fill="#00ff7f"/>
<rect x="730" y="251" width="1" height="15" fill="#00ff7f"/>
<rect x="729" y="252" width="3" height="12" fill="#00ff7f"/>
<rect x="734" y="244" width="1" height="19" fill="#ff0000"/>
<rect x="733" y="251" width="3" height="7" fill="#ff0000"/>
<rect x="738" y="246" width="1" height="18" fill="#ff0000"/>
<rect x="737" y="249" width="3" height="3" fill="#ff0000"/>
<rect x="742" y="247" width="1" height="9" fill="#00ff7f"/>
<rect x="741" y="249" width="3" height="4" fill="#00ff7f"/>
<rect x="746" y="243" width="1" height="12" fill="#ff0000"/>
<rect x="745" y="244" width="3" height="6" fill="#ff0000"/>
<rect x="750" y="192" width="1" height="56" fill="#ff0000"/>
<rect x="749" y="202" width="3" height="42" fill="#ff0000"/>
<rect x="754" y="189" width="1" height="17" fill="#ff0000"/>
<rect x="753" y="189" width="3" height="14" fill="#ff0000"/>
<rect x="758" y="171" width="1" height="24" fill="#ff0000"/>
<rect x="757" y="177" width="3" height="17" fill="#ff0000"/>
<rect x="762" y="153" width="1" height="29" fill="#ff0000"/>
<rect x="761" y="163" width="3" height="15" fill="#ff0000"/>
<rect x="766" y="158" width="1" height="12" fill="#00ff7f"/>
<rect x="765" y="163" width="3" height="5" fill="#00ff7f"/>
<rect x="770" y="163" width="1" height="36" fill="#00ff7f"/>
<rect x="769" y="169" width="3" height="9" fill="#00ff7f"/>
<rect x="774" y="176" width="1" height="52" fill="#00ff7f"/>
<rect x="773" y="179" width="3" height="24" fill="#00ff7f"/>
<rect x="778" y="191" width="1" height="13" fill="#ff0000"/>
<rect x="777" y="200" width="3" height="3" fill="#ff0000"/>
<rect x="782" y="175" width="1" height="32" fill="#ff0000"/>
<rect x="781" y="186" width="3" height="19" fill="#ff0000"/>
<rect x="786" y="180" width="1" height="42" fill="#00ff7f"/>
<rect x="785" y="186" width="3" height="30" fill="#00ff7f"/>
<rect x="790" y="199" width="1" height="38" fill="#00ff7f"/>
<rect x="789" y="212" width="3" height="19" fill="#00ff7f"/>
<rect x="794" y="226" width="1" height="22" fill="#00ff7f"/>
<rect x="793" y="230" width="3" height="12" fill="#00ff7f"/>
<rect x="798" y="231" width="1" height="22" fill="#ff0000"/>
<rect x="797" y="235" width="3" height="7" fill="#ff0000"/>
<rect x="802" y="224" width="1" height="13" fill="#ff0000"/>
<rect x="801" y="228" width="3" height="8" fill="#ff0000"/>
<rect x="806" y="218" width="1" height="18" fill="#ff0000"/>
<rect x="805" y="222" width="3" height="11" fill="#ff0000"/>
<rect x="810" y="213" width="1" height="29" fill="#00ff7f"/>
<rect x="809" y="222" width="3" height="9" fill="#00ff7f"/>
<rect x="814" y="202" width="1" height="30" fill="#ff0000"/>
<rect x="813" y="210" width="3" height="20" fill="#ff0000"/>
<rect x="818" y="196" width="1" height="25" fill="#00ff7f"/>
<rect x="817" y="209" width="3" height="8" fill="#00ff7f"/>
<rect x="822" y="215" width="1" height="38" fill="#00ff7f"/>
<rect x="821" y="217" width="3" height="31" fill="#00ff7f"/>
<rect x="826" y="245" width="1" height="7" fill="#00ff7f"/>
<rect x="825" y="247" width="3" height="1" fill="#00ff7f"/>
<rect x="830" y="243" width="1" height="16" fill="#00ff7f"/>
<rect x="829" y="249" width="3" height="6" fill="#00ff7f"/>
<rect x="834" y="231" width="1" height="25" fill="#ff0000"/>
<rect x="833" y="243" width="3" height="12" fill="#ff0000"/>
<rect x="838" y="243" width="1" height="20" fill="#00ff7f"/>
<rect x="837" y="244" width="3" height="16" fill="#00ff7f"/>
<rect x="842" y="237" width="1" height="45" fill="#00ff7f"/>
<rect x="841" y="259" width="3" height="20" fill="#00ff7f"/>
<rect x="846" y="268" width="1" height="25" fill="#00ff7f"/>
<rect x="845" y="278" width="3" height="14" fill="#00ff7f"/>
<rect x="850" y="286" width="1" height="9" fill="#ff0000"/>
<rect x="849" y="288" width="3" height="4" fill="#ff0000"/>
<rect x="854" y="285" width="1" height="16" fill="#00ff7f"/>
<rect x="853" y="287" width="3" height="13" fill="#00ff7f"/>
<rect x="858" y="294" width="1" height="16" fill="#00ff7f"/>
<rect x="857" y="299" width="3" height="8" fill="#00ff7f"/>
<rect x="862" y="290" width="1" height="23" fill="#00ff7f"/>
<rect x="861" y="306" width="3" height="3" fill="#00ff7f"/>
<rect x="866" y="284" width="1" height="27" fill="#ff0000"/>
<rect x="865" y="284" width="3" height="24" fill="#ff0000"/>
<rect x="870" y="253" width="1" height="44" fill="#ff0000"/>
<rect x="869" y="255" width="3" height="30" fill="#ff0000"/>
<rect x="874" y="249" width="1" height="11" fill="#ff0000"/>
<rect x="873" y="250" width="3" height="6" fill="#ff0000"/>
<rect x="878" y="249" width="1" height="8" fill="#ff0000"/>
<rect x="877" y="253" width="3" height="1" fill="#ff0000"/>
</g>
<path d="M6 182h2v1h-2zM8 183h11v1h-11zM19 184h2v1h-2zM21 185h3v1h-3zM24 186h4v1h-4zM28 187h4v1h-4zM32 188h4v1h-4zM36 189h12v1h-12zM48 188h3v1h-3zM51 187h1v1h-1zM52 186h2v1h-2zM54 185h1v1h-1zM55 184h1v1h-1zM56 182h1v2h-1zM57 181h1v1h-1zM58 180h1v1h-1zM59 179h1v1h-1zM60 178h1v1h-1zM61 177h1v1h-1zM62 176h1v1h-1zM63 175h1v1h-1zM64 174h1v1h-1zM65 173h1v1h-1zM66 172h1v1h-1zM67 171h1v1h-1zM68 169h1v2h-1zM69 168h1v1h-1zM70 167h1v1h-1zM71 166h1v1h-1zM72 165h2v1h-2zM74 164h1v1h-1zM75 163h1v1h-1zM76 162h2v1h-2zM78 161h1v1h-1zM79 160h2v1h-2zM81 159h2v1h-2zM83 158h2v1h-2zM85 157h10v1h-10zM95 156h1v1h-1zM96 155h2v1h-2zM98 154h1v1h-1zM99 153h1v1h-1zM100 152h1v1h-1zM101 151h1v1h-1zM102 150h1v1h-1zM103 148h1v2h-1zM104 146h1v2h-1zM105 144h1v2h-1zM106 143h1v1h-1zM107 141h1v2h-1zM108 139h1v2h-1zM109 137h1v2h-1zM110 135h1v2h-1zM111 133h1v2h-1zM112 131h1v2h-1zM113 129h1v2h-1zM114 128h1v1h-1zM115 126h1v2h-1zM116 124h1v2h-1zM117 122h1v2h-1zM118 121h1v1h-1zM119 120h1v1h-1zM120 118h1v2h-1zM121 117h1v1h-1zM122 116h1v1h-1zM123 115h1v1h-1zM124 114h1v1h-1zM125 113h1v1h-1zM126 112h1v1h-1zM127 111h1v1h-1zM128 110h1v1h-1zM129 109h1v1h-1zM130 108h2v1h-2zM132 107h4v1h-4zM136 108h3v1h-3zM139 109h2v1h-2zM141 110h3v1h-3zM144 111h3v1h-3zM147 112h1v1h-1zM148 113h2v1h-2zM150 114h1v1h-1zM151 115h2v1h-2zM153 116h2v1h-2zM155 117h2v1h-2zM157 118h3v1h-3zM160 119h3v1h-3zM163 118h2v1h-2zM165 117h3v1h-3zM168 116h4v1h-4zM172 115h3v1h-3zM175 114h2v1h-2zM177 113h3v1h-3zM180 114h3v1h-3zM183 115h1v1h-1zM184 116h2v1h-2zM186 117h1v1h-1zM187 118h1v1h-1zM188 119h1v1h-1zM189 120h1v1h-1zM190 121h1v1h-1zM191 122h1v1h-1zM192 123h1v2h-1zM193 125h1v1h-1zM194 126h1v1h-1zM195 127h1v1h-1zM196 128h1v2h-1zM197 130h1v1h-1zM198 131h1v1h-1zM199 132h1v2h-1zM200 134h1v1h-1zM201 135h1v2h-1zM202 137h1v1h-1zM203 138h1v1h-1zM204 139h1v1h-1zM205 140h1v1h-1zM206 141h1v1h-1zM207 142h1v2h-1zM208 144h1v2h-1zM209 146h1v2h-1zM210 148h1v1h-1zM211 149h1v2h-1zM212 151h1v2h-1zM213 153h1v2h-1zM214 155h1v1h-1zM215 156h1v1h-1zM216 157h1v2h-1zM217 159h1v1h-1zM218 160h1v1h-1zM219 161h1v2h-1zM220 163h1v1h-1zM221 164h1v2h-1zM222 166h1v1h-1zM223 167h1v1h-1zM224 168h1v1h-1zM225 169h1v1h-1zM226 170h1v1h-1zM227 171h1v1h-1zM228 172h1v1h-1zM229 173h1v1h-1zM230 174h1v1h-1zM231 175h1v1h-1zM232 176h2v1h-2zM234 177h1v1h-1zM235 178h2v1h-2zM237 179h2v1h-2zM239 180h1v1h-1zM240 181h1v2h-1zM241 183h1v1h-1zM242 184h1v1h-1zM243 185h1v1h-1zM244 186h2v1h-2zM246 187h1v1h-1zM247 188h1v1h-1zM248 189h1v1h-1zM249 190h1v1h-1zM250 191h1v1h-1zM251 192h2v1h-2zM253 193h2v1h-2zM255 194h2v1h-2zM257 195h3v1h-3zM260 196h3v1h-3zM263 197h2v1h-2zM265 198h11v1h-11zM276 199h4v1h-4zM280 200h3v1h-3zM283 201h2v1h-2zM285 202h2v1h-2zM287 203h1v1h-1zM288 204h1v1h-1zM289 205h1v1h-1zM290 206h1v1h-1zM291 207h2v1h-2zM293 208h3v1h-3zM296 209h3v1h-3zM299 210h2v1h-2zM301 211h3v1h-3zM304 212h4v1h-4zM308 213h4v1h-4zM312 214h12v1h-12zM324 213h8v1h-8zM332 214h3v1h-3zM335 215h1v1h-1zM336 216h1v1h-1zM337 217h1v1h-1zM338 218h1v1h-1zM339 219h1v2h-1zM340 221h1v2h-1zM341 223h1v2h-1zM342 225h1v1h-1zM343 226h1v2h-1zM344 228h1v2h-1zM345 230h1v2h-1zM346 232h1v1h-1zM347 233h1v2h-1zM348 235h1v2h-1zM349 237h1v2h-1zM350 239h1v2h-1zM351 241h1v2h-1zM352 243h1v2h-1zM353 245h1v2h-1zM354 247h1v2h-1zM355 249h1v1h-1zM356 250h1v2h-1zM357 252h1v1h-1zM358 253h1v1h-1zM359 254h1v1h-1zM360 255h1v2h-1zM361 257h1v1h-1zM362 258h1v1h-1zM363 259h1v1h-1zM364 260h1v2h-1zM365 262h1v1h-1zM366 263h1v1h-1zM367 264h1v1h-1zM368 265h2v1h-2zM370 266h1v1h-1zM371 267h2v1h-2zM373 268h3v1h-3zM376 269h3v1h-3zM379 270h1v1h-1zM380 271h2v1h-2zM382 272h2v1h-2zM384 273h8v1h-8zM392 274h3v1h-3zM395 275h1v1h-1zM396 276h2v1h-2zM398 277h1v1h-1zM399 278h2v1h-2zM401 279h2v1h-2zM403 280h1v1h-1zM404 281h2v1h-2zM406 282h1v1h-1zM407 283h2v1h-2zM409 284h2v1h-2zM411 285h1v1h-1zM412 286h2v1h-2zM414 287h1v1h-1zM415 288h2v1h-2zM417 289h2v1h-2zM419 290h2v1h-2zM421 291h3v1h-3zM424 290h4v1h-4zM428 291h4v1h-4zM432 292h7v1h-7zM439 293h1v1h-1zM440 294h2v1h-2zM442 295h1v1h-1zM443 296h1v1h-1zM444 297h1v1h-1zM445 298h1v1h-1zM446 299h1v1h-1zM447 300h1v1h-1zM448 301h2v1h-2zM450 302h1v1h-1zM451 303h1v1h-1zM452 304h2v1h-2zM454 305h1v1h-1zM455 306h2v1h-2zM457 307h2v1h-2zM459 308h2v1h-2zM461 309h3v1h-3zM464 310h3v1h-3zM467 311h1v1h-1zM468 312h2v1h-2zM470 313h1v1h-1zM471 314h1v1h-1zM472 315h2v1h-2zM474 316h1v1h-1zM475 317h1v1h-1zM476 318h2v1h-2zM478 319h6v1h-6zM484 320h8v1h-8zM492 321h4v1h-4zM496 320h3v1h-3zM499 319h2v1h-2zM501 318h2v1h-2zM503 317h1v1h-1zM504 316h1v1h-1zM505 315h1v1h-1zM506 314h1v1h-1zM507 313h1v1h-1zM508 311h1v2h-1zM509 310h1v1h-1zM510 309h1v1h-1zM511 307h1v2h-1zM512 306h1v1h-1zM513 304h1v2h-1zM514 303h1v1h-1zM515 301h1v2h-1zM516 300h1v1h-1zM517 298h1v2h-1zM518 297h1v1h-1zM519 295h1v2h-1zM520 294h1v1h-1zM521 292h1v2h-1zM522 291h1v1h-1zM523 289h1v2h-1zM524 288h1v1h-1zM525 286h1v2h-1zM526 285h1v1h-1zM527 283h1v2h-1zM528 282h1v1h-1zM529 280h1v2h-1zM530 279h1v1h-1zM531 278h1v1h-1zM532 277h1v1h-1zM533 276h1v1h-1zM534 275h1v1h-1zM535 274h1v1h-1zM536 273h1v1h-1zM537 272h1v1h-1zM538 271h1v1h-1zM539 270h1v1h-1zM540 269h1v1h-1zM541 268h1v1h-1zM542 267h1v1h-1zM543 266h1v1h-1zM544 265h1v1h-1zM545 264h1v1h-1zM546 263h1v1h-1zM547 262h1v1h-1zM548 261h1v1h-1zM549 260h1v1h-1zM550 259h1v1h-1zM551 257h1v2h-1zM552 256h1v1h-1zM553 254h1v2h-1zM554 253h1v1h-1zM555 251h1v2h-1zM556 250h1v1h-1zM557 248h1v2h-1zM558 247h1v1h-1zM559 245h1v2h-1zM560 244h1v1h-1zM561 242h1v2h-1zM562 241h1v1h-1zM563 240h1v1h-1zM564 239h1v1h-1zM565 238h1v1h-1zM566 237h2v1h-2zM568 236h4v1h-4zM572 235h4v1h-4zM576 234h4v1h-4zM580 235h4v1h-4zM584 236h3v1h-3zM587 237h1v1h-1zM588 238h2v1h-2zM590 239h1v1h-1zM591 240h1v1h-1zM592 241h1v2h-1zM593 243h1v1h-1zM594 244h1v1h-1zM595 245h1v1h-1zM596 246h1v1h-1zM597 247h1v1h-1zM598 248h1v1h-1zM599 249h1v1h-1zM600 250h1v2h-1zM601 252h1v1h-1zM602 253h1v1h-1zM603 254h2v1h-2zM605 255h2v1h-2zM607 256h2v1h-2zM609 257h3v1h-3zM612 258h12v1h-12zM624 259h3v1h-3zM627 260h2v1h-2zM629 261h2v1h-2zM631 262h1v1h-1zM632 263h2v1h-2zM634 264h1v1h-1zM635 265h1v1h-1zM636 266h1v2h-1zM637 268h1v1h-1zM638 269h1v1h-1zM639 270h1v1h-1zM640 271h1v1h-1zM641 272h1v1h-1zM642 273h1v1h-1zM643 274h1v1h-1zM644 275h1v2h-1zM645 277h1v1h-1zM646 278h1v1h-1zM647 279h1v1h-1zM648 280h1v2h-1zM649 282h1v1h-1zM650 283h2v1h-2zM652 284h3v1h-3zM655 285h2v1h-2zM657 286h3v1h-3zM660 285h3v1h-3zM663 284h2v1h-2zM665 283h2v1h-2zM667 282h2v1h-2zM669 281h3v1h-3zM672 280h4v1h-4zM676 279h3v1h-3zM679 278h2v1h-2zM681 277h2v1h-2zM683 276h2v1h-2zM685 275h3v1h-3zM688 274h4v1h-4zM692 273h4v1h-4zM696 272h3v1h-3zM699 271h2v1h-2zM701 270h3v1h-3zM704 269h3v1h-3zM707 268h2v1h-2zM709 267h2v1h-2zM711 266h1v1h-1zM712 265h1v1h-1zM713 264h1v1h-1zM714 263h1v1h-1zM715 262h1v1h-1zM716 261h2v1h-2zM718 260h1v1h-1zM719 259h1v1h-1zM720 258h2v1h-2zM722 257h1v1h-1zM723 256h1v1h-1zM724 255h2v1h-2zM726 254h1v1h-1zM727 253h2v1h-2zM729 252h2v1h-2zM731 251h2v1h-2zM733 250h2v1h-2zM735 249h2v1h-2zM737 248h2v1h-2zM739 247h2v1h-2zM741 246h3v1h-3zM744 245h3v1h-3zM747 244h2v1h-2zM749 243h2v1h-2zM751 242h1v1h-1zM752 241h2v1h-2zM754 240h1v1h-1zM755 239h1v1h-1zM756 238h1v1h-1zM757 237h1v1h-1zM758 236h1v1h-1zM759 235h1v1h-1zM760 233h1v2h-1zM761 232h1v1h-1zM762 231h1v1h-1zM763 230h1v1h-1zM764 228h1v2h-1zM765 227h1v1h-1zM766 226h1v1h-1zM767 225h1v1h-1zM768 224h1v1h-1zM769 223h1v1h-1zM770 222h1v1h-1zM771 221h1v1h-1zM772 220h2v1h-2zM774 219h1v1h-1zM775 218h2v1h-2zM777 217h2v1h-2zM779 216h2v1h-2zM781 215h11v1h-11zM792 216h4v1h-4zM796 217h8v1h-8zM804 216h4v1h-4zM808 215h3v1h-3zM811 214h2v1h-2zM813 213h2v1h-2zM815 212h2v1h-2zM817 211h14v1h-14zM831 212h2v1h-2zM833 213h2v1h-2zM835 214h1v1h-1zM836 215h1v1h-1zM837 216h1v1h-1zM838 217h1v1h-1zM839 218h1v1h-1zM840 219h1v1h-1zM841 220h1v1h-1zM842 221h1v1h-1zM843 222h1v2h-1zM844 224h1v2h-1zM845 226h1v2h-1zM846 228h1v1h-1zM847 229h1v1h-1zM848 230h1v2h-1zM849 232h1v1h-1zM850 233h1v1h-1zM851 234h1v2h-1zM852 236h1v1h-1zM853 237h1v2h-1zM854 239h1v1h-1zM855 240h1v1h-1zM856 241h1v2h-1zM857 243h1v1h-1zM858 244h1v1h-1zM859 245h1v1h-1zM860 246h1v2h-1zM861 248h1v1h-1zM862 249h1v1h-1zM863 250h1v1h-1zM864 251h1v2h-1zM865 253h1v1h-1zM866 254h1v1h-1zM867 255h2v1h-2zM869 256h3v1h-3zM872 257h6v1h-6z" fill="#0000cd" shape-rendering="crispEdges"/>
<path d="M6 198h1v1h-1zM7 197h1v1h-1zM8 195h1v2h-1zM9 194h1v1h-1zM10 193h1v1h-1zM11 192h1v1h-1zM12 190h1v2h-1zM13 189h1v1h-1zM14 188h1v1h-1zM15 187h1v1h-1zM16 186h2v1h-2zM18 185h1v1h-1zM19 186h1v1h-1zM20 187h1v2h-1zM21 189h1v1h-1zM22 190h1v1h-1zM23 191h1v2h-1zM24 193h1v2h-1zM25 195h1v2h-1zM26 197h1v1h-1zM27 198h1v2h-1zM28 200h1v2h-1zM29 202h1v2h-1zM30 204h1v2h-1zM31 206h1v1h-1zM32 207h2v1h-2zM34 208h1v1h-1zM35 207h1v1h-1zM36 206h1v1h-1zM37 205h1v1h-1zM38 203h1v2h-1zM39 200h1v3h-1zM40 196h1v4h-1zM41 193h1v3h-1zM42 190h1v3h-1zM43 187h1v3h-1zM44 183h1v4h-1zM45 180h1v3h-1zM46 176h1v4h-1zM47 171h1v5h-1zM48 167h1v4h-1zM49 162h1v5h-1zM50 157h1v5h-1zM51 152h1v5h-1zM52 147h1v5h-1zM53 142h1v5h-1zM54 137h1v5h-1zM55 133h1v4h-1zM56 129h1v4h-1zM57 125h1v4h-1zM58 121h1v4h-1zM59 119h1v2h-1zM60 117h1v2h-1zM61 115h1v2h-1zM62 112h1v3h-1zM63 110h1v2h-1zM64 107h1v3h-1zM65 105h1v2h-1zM66 103h1v2h-1zM67 102h2v1h-2zM69 101h2v1h-2zM71 102h1v2h-1zM72 104h1v2h-1zM73 106h1v2h-1zM74 108h1v2h-1zM75 110h1v4h-1zM76 114h1v4h-1zM77 118h1v4h-1zM78 122h1v3h-1zM79 125h1v4h-1zM80 129h1v3h-1zM81 132h1v4h-1zM82 136h1v3h-1zM83 139h1v2h-1zM84 141h1v3h-1zM85 144h1v2h-1zM86 146h1v3h-1zM87 149h1v4h-1zM88 153h1v4h-1zM89 157h1v4h-1zM90 161h1v2h-1zM91 163h1v2h-1zM92 165h1v2h-1zM93 167h1v1h-1zM93 168h2v1h-2zM94 169h1v1h-1zM95 166h1v2h-1zM96 164h1v2h-1zM97 162h1v2h-1zM98 159h1v3h-1zM99 155h1v4h-1zM100 151h1v4h-1zM101 147h1v4h-1zM102 143h1v4h-1zM103 139h1v4h-1zM104 135h1v4h-1zM105 131h1v4h-1zM106 125h1v6h-1zM107 119h1v6h-1zM108 113h1v6h-1zM109 107h1v6h-1zM110 101h1v6h-1zM111 95h1v6h-1zM112 90h1v5h-1zM113 84h1v6h-1zM114 80h1v4h-1zM115 76h1v4h-1zM116 73h1v3h-1zM117 69h1v4h-1zM118 67h1v2h-1zM119 66h1v1h-1zM120 64h1v2h-1zM121 63h1v1h-1zM122 62h2v1h-2zM124 61h3v1h-3zM127 62h2v1h-2zM129 63h2v1h-2zM130 64h1v1h-1zM131 65h1v2h-1zM132 67h1v3h-1zM133 70h1v2h-1zM134 72h1v3h-1zM135 75h1v3h-1zM136 78h1v2h-1zM137 80h1v3h-1zM138 83h1v3h-1zM139 86h1v3h-1zM140 89h1v4h-1zM141 93h1v3h-1zM142 96h1v3h-1zM143 99h1v3h-1zM144 102h1v2h-1zM145 104h1v3h-1zM146 107h1v4h-1zM147 111h1v5h-1zM148 116h1v6h-1zM149 122h1v5h-1zM150 127h1v4h-1zM151 131h1v3h-1zM152 134h1v2h-1zM153 136h1v3h-1zM154 139h1v3h-1zM155 142h1v3h-1zM156 145h1v3h-1zM157 148h1v3h-1zM158 151h1v3h-1zM159 154h1v2h-1zM160 156h1v2h-1zM161 158h1v2h-1zM162 160h1v2h-1zM163 162h1v1h-1zM164 163h2v1h-2zM166 164h1v1h-1zM167 162h1v2h-1zM168 161h1v1h-1zM169 159h1v2h-1zM170 158h1v1h-1zM171 157h1v1h-1zM172 156h1v1h-1zM173 155h1v1h-1zM174 154h1v1h-1zM175 152h1v2h-1zM176 150h1v2h-1zM177 148h1v2h-1zM178 146h1v2h-1zM179 144h1v2h-1zM180 142h1v2h-1zM181 140h1v2h-1zM182 139h1v1h-1zM183 140h1v2h-1zM184 142h1v1h-1zM185 143h1v2h-1zM186 145h1v1h-1zM187 146h1v1h-1zM188 147h1v1h-1zM189 148h1v1h-1zM190 149h1v1h-1zM191 150h1v1h-1zM192 151h2v1h-2zM194 152h1v1h-1zM195 153h1v2h-1zM196 155h1v2h-1zM197 157h1v2h-1zM198 159h1v1h-1zM199 160h1v1h-1zM200 161h1v2h-1zM201 163h1v1h-1zM202 164h5v1h-5zM206 165h1v1h-1zM207 166h1v2h-1zM208 168h1v3h-1zM209 171h1v2h-1zM210 173h1v3h-1zM211 176h1v3h-1zM212 179h1v2h-1zM213 181h1v3h-1zM214 184h1v2h-1zM215 186h1v2h-1zM216 188h1v2h-1zM217 190h1v2h-1zM218 192h1v3h-1zM219 195h1v3h-1zM220 198h1v4h-1zM221 202h1v3h-1zM222 205h1v3h-1zM223 208h1v3h-1zM224 211h1v2h-1zM225 213h1v3h-1zM226 216h1v2h-1zM227 218h2v1h-2zM229 219h3v1h-3zM232 218h3v1h-3zM235 219h1v1h-1zM236 220h2v1h-2zM238 221h1v1h-1zM239 222h1v2h-1zM240 224h1v2h-1zM241 226h1v2h-1zM242 228h1v2h-1zM243 230h2v1h-2zM245 231h2v1h-2zM247 232h1v1h-1zM248 233h1v1h-1zM249 234h1v1h-1zM250 235h1v1h-1zM251 233h1v2h-1zM252 232h1v1h-1zM253 230h1v2h-1zM254 228h1v2h-1zM255 226h1v2h-1zM256 224h1v2h-1zM257 222h1v2h-1zM258 218h1v4h-1zM259 212h1v6h-1zM260 207h1v5h-1zM261 201h1v6h-1zM262 197h1v4h-1zM263 194h1v3h-1zM264 191h1v3h-1zM265 188h1v3h-1zM266 185h1v3h-1zM267 181h1v4h-1zM268 177h1v4h-1zM269 173h1v4h-1zM270 171h2v1h-2zM270 172h1v1h-1zM272 170h3v1h-3zM275 169h2v1h-2zM277 168h2v1h-2zM279 169h1v2h-1zM280 171h1v2h-1zM281 173h1v2h-1zM282 175h1v1h-1zM283 176h1v2h-1zM284 178h1v2h-1zM285 180h1v2h-1zM286 182h1v3h-1zM287 185h1v4h-1zM288 189h1v4h-1zM289 193h1v4h-1zM290 197h1v3h-1zM291 200h1v4h-1zM292 204h1v4h-1zM293 208h1v4h-1zM294 212h1v3h-1zM295 215h1v4h-1zM296 219h1v3h-1zM297 222h1v4h-1zM298 226h1v3h-1zM299 229h1v3h-1zM300 232h1v3h-1zM301 235h1v3h-1zM302 238h1v2h-1zM303 240h1v2h-1zM304 242h1v1h-1zM305 243h1v2h-1zM306 245h2v1h-2zM308 246h4v1h-4zM312 247h3v1h-3zM315 245h1v2h-1zM316 243h1v2h-1zM317 241h1v2h-1zM318 240h1v1h-1zM319 238h1v2h-1zM320 237h1v1h-1zM321 235h1v2h-1zM322 234h1v1h-1zM323 233h2v1h-2zM325 232h7v1h-7zM332 233h3v1h-3zM334 234h1v1h-1zM335 235h1v3h-1zM336 238h1v2h-1zM337 240h1v3h-1zM338 243h1v4h-1zM339 247h1v5h-1zM340 252h1v5h-1zM341 257h1v5h-1zM342 262h1v5h-1zM343 267h1v4h-1zM344 271h1v4h-1zM345 275h1v4h-1zM346 279h1v5h-1zM347 284h1v4h-1zM348 288h1v4h-1zM349 292h1v4h-1zM350 296h1v4h-1zM351 300h1v4h-1zM352 304h1v4h-1zM353 308h1v4h-1zM354 312h1v2h-1zM355 314h1v1h-1zM356 315h1v1h-1zM357 316h1v1h-1zM358 317h1v1h-1zM359 315h1v2h-1zM360 314h1v1h-1zM361 312h1v2h-1zM362 310h1v2h-1zM363 308h1v2h-1zM364 306h1v2h-1zM365 304h1v2h-1zM366 302h1v2h-1zM367 300h1v2h-1zM368 298h1v2h-1zM369 296h1v2h-1zM370 293h1v3h-1zM371 290h1v3h-1zM372 288h1v2h-1zM373 285h1v3h-1zM374 283h1v2h-1zM375 282h1v1h-1zM376 281h2v1h-2zM378 280h1v1h-1zM379 281h1v1h-1zM380 282h1v2h-1zM381 284h1v1h-1zM382 285h1v1h-1zM383 284h1v1h-1zM384 283h1v1h-1zM385 282h1v1h-1zM386 281h1v1h-1zM387 279h1v2h-1zM388 278h1v1h-1zM389 276h1v2h-1zM390 275h2v1h-2zM392 274h3v1h-3zM395 275h1v1h-1zM396 276h1v1h-1zM397 277h1v1h-1zM398 278h1v1h-1zM399 276h1v2h-1zM400 274h1v2h-1zM401 272h1v2h-1zM402 270h1v1h-1zM402 271h3v1h-3zM405 272h2v1h-2zM407 273h1v1h-1zM408 274h2v1h-2zM410 275h1v2h-1zM411 277h1v2h-1zM412 279h1v2h-1zM413 281h1v2h-1zM414 283h3v1h-3zM414 284h1v1h-1zM417 282h2v1h-2zM418 283h1v1h-1zM419 284h1v2h-1zM420 286h1v3h-1zM421 289h1v2h-1zM422 291h1v2h-1zM423 293h1v2h-1zM424 295h1v1h-1zM425 296h1v2h-1zM426 298h1v2h-1zM427 300h1v3h-1zM428 303h1v4h-1zM429 307h1v3h-1zM430 310h1v2h-1zM431 312h1v2h-1zM432 314h1v2h-1zM433 316h1v2h-1zM434 318h1v3h-1zM435 321h1v2h-1zM436 323h1v3h-1zM437 326h1v2h-1zM438 328h1v2h-1zM439 330h1v2h-1zM440 332h1v1h-1zM441 333h1v2h-1zM442 335h1v2h-1zM443 337h1v4h-1zM444 341h1v3h-1zM445 344h1v4h-1zM446 348h1v2h-1zM447 350h1v1h-1zM448 351h2v1h-2zM450 352h1v1h-1zM451 351h2v1h-2zM453 350h2v1h-2zM455 348h1v2h-1zM456 347h1v1h-1zM457 345h1v2h-1zM458 344h1v1h-1zM459 343h1v1h-1zM460 342h1v1h-1zM461 341h1v1h-1zM462 339h1v2h-1zM463 337h1v2h-1zM464 334h1v3h-1zM465 332h1v2h-1zM466 330h1v2h-1zM467 328h1v2h-1zM468 326h1v2h-1zM469 324h1v2h-1zM470 323h5v1h-5zM475 324h2v1h-2zM477 325h2v1h-2zM479 323h1v2h-1zM480 322h1v1h-1zM481 320h1v2h-1zM482 319h1v1h-1zM483 317h1v2h-1zM484 315h1v2h-1zM485 313h1v2h-1zM486 312h1v1h-1zM487 310h1v2h-1zM488 308h1v2h-1zM489 306h1v2h-1zM490 303h1v3h-1zM491 301h1v2h-1zM492 298h1v3h-1zM493 296h1v2h-1zM494 294h1v2h-1zM495 292h1v2h-1zM496 290h1v2h-1zM497 288h1v2h-1zM498 287h1v1h-1zM499 285h1v2h-1zM500 283h1v2h-1zM501 281h1v2h-1zM502 278h1v3h-1zM503 275h1v3h-1zM504 273h1v2h-1zM505 270h1v3h-1zM506 267h1v3h-1zM507 263h1v4h-1zM508 259h1v4h-1zM509 255h1v4h-1zM510 251h1v4h-1zM511 247h1v4h-1zM512 243h1v4h-1zM513 239h1v4h-1zM514 235h1v4h-1zM515 231h1v4h-1zM516 227h1v4h-1zM517 223h1v4h-1zM518 221h1v2h-1zM519 219h1v2h-1zM520 217h1v2h-1zM521 215h1v2h-1zM522 213h1v1h-1zM522 214h3v1h-3zM525 215h2v1h-2zM527 216h1v2h-1zM528 218h1v2h-1zM529 220h1v2h-1zM530 222h1v2h-1zM531 224h1v3h-1zM532 227h1v2h-1zM533 229h1v3h-1zM534 232h1v2h-1zM535 234h1v2h-1zM536 236h1v2h-1zM537 238h1v2h-1zM538 240h1v2h-1zM539 242h1v2h-1zM540 244h1v1h-1zM541 245h1v2h-1zM542 247h5v1h-5zM547 246h1v1h-1zM548 245h2v1h-2zM550 243h1v2h-1zM551 241h1v2h-1zM552 238h1v3h-1zM553 236h1v2h-1zM554 233h1v3h-1zM555 230h1v3h-1zM556 228h1v2h-1zM557 225h1v3h-1zM558 222h1v3h-1zM559 220h1v2h-1zM560 218h1v2h-1zM561 216h1v2h-1zM562 214h1v2h-1zM563 213h1v1h-1zM564 211h1v2h-1zM565 210h1v1h-1zM566 209h1v1h-1zM567 210h1v2h-1zM568 212h1v1h-1zM569 213h1v2h-1zM570 215h1v2h-1zM571 217h1v3h-1zM572 220h1v2h-1zM573 222h1v3h-1zM574 225h1v3h-1zM575 228h1v4h-1zM576 232h1v4h-1zM577 236h1v4h-1zM578 240h1v5h-1zM579 245h1v4h-1zM580 249h1v5h-1zM581 254h1v4h-1zM582 258h1v5h-1zM583 263h1v4h-1zM584 267h1v4h-1zM585 271h1v4h-1zM586 275h1v3h-1zM587 278h1v1h-1zM588 279h1v2h-1zM589 281h1v1h-1zM590 282h1v1h-1zM591 283h1v2h-1zM592 285h1v2h-1zM593 287h1v2h-1zM594 289h1v2h-1zM595 291h1v1h-1zM596 292h1v1h-1zM597 293h1v1h-1zM598 294h1v1h-1zM599 295h1v1h-1zM600 296h2v1h-2zM602 297h1v1h-1zM603 296h1v1h-1zM604 295h1v1h-1zM605 294h1v1h-1zM606 293h1v1h-1zM607 292h1v1h-1zM608 291h2v1h-2zM610 290h1v1h-1zM611 288h1v2h-1zM612 286h1v2h-1zM613 284h1v2h-1zM614 281h1v3h-1zM615 279h1v2h-1zM616 277h1v2h-1zM617 275h1v2h-1zM618 273h1v2h-1zM619 271h1v2h-1zM620 269h1v2h-1zM621 267h1v2h-1zM622 265h1v2h-1zM623 264h1v1h-1zM624 263h1v1h-1zM625 262h1v1h-1zM626 261h1v1h-1zM627 262h1v1h-1zM628 263h2v1h-2zM630 264h1v1h-1zM631 265h1v2h-1zM632 267h1v2h-1zM633 269h1v2h-1zM634 271h1v2h-1zM635 273h1v2h-1zM636 275h1v2h-1zM637 277h1v2h-1zM638 279h1v2h-1zM639 281h1v2h-1zM640 283h1v2h-1zM641 285h1v2h-1zM642 287h1v2h-1zM643 289h1v2h-1zM644 291h1v2h-1zM645 293h1v2h-1zM646 295h1v2h-1zM647 297h1v1h-1zM648 298h1v1h-1zM649 299h1v1h-1zM650 300h6v1h-6zM656 299h3v1h-3zM659 297h1v2h-1zM660 295h1v2h-1zM661 293h1v2h-1zM662 290h1v3h-1zM663 288h1v2h-1zM664 285h1v3h-1zM665 283h1v2h-1zM666 280h1v3h-1zM667 278h1v2h-1zM668 275h1v3h-1zM669 273h1v2h-1zM670 270h1v3h-1zM671 268h1v2h-1zM672 266h1v2h-1zM673 264h1v2h-1zM674 262h1v2h-1zM675 261h1v1h-1zM676 260h1v1h-1zM677 259h1v1h-1zM678 258h1v1h-1zM679 259h2v1h-2zM681 260h2v1h-2zM683 261h2v1h-2zM685 262h7v1h-7zM692 263h3v1h-3zM694 262h1v1h-1zM695 260h1v2h-1zM696 258h1v2h-1zM697 256h1v2h-1zM698 253h1v3h-1zM699 250h1v3h-1zM700 248h1v2h-1zM701 245h1v3h-1zM702 243h1v2h-1zM703 241h1v2h-1zM704 240h1v1h-1zM705 238h1v2h-1zM706 237h1v1h-1zM707 235h1v2h-1zM708 234h1v1h-1zM709 232h1v2h-1zM710 230h1v2h-1zM711 228h1v2h-1zM712 226h1v2h-1zM713 224h1v2h-1zM714 222h2v1h-2zM714 223h1v1h-1zM716 221h3v1h-3zM719 222h2v1h-2zM721 223h2v1h-2zM723 224h1v1h-1zM724 225h1v2h-1zM725 227h1v1h-1zM726 228h1v1h-1zM727 229h1v2h-1zM728 231h1v2h-1zM729 233h1v2h-1zM730 235h1v3h-1zM731 238h1v2h-1zM732 240h1v2h-1zM733 242h1v2h-1zM734 244h1v2h-1zM735 246h1v1h-1zM736 247h1v2h-1zM737 249h1v1h-1zM738 250h1v1h-1zM739 251h1v1h-1zM740 252h2v1h-2zM742 253h2v1h-2zM744 252h3v1h-3zM746 251h1v1h-1zM747 248h1v3h-1zM748 245h1v3h-1zM749 242h1v3h-1zM750 239h1v3h-1zM751 236h1v3h-1zM752 232h1v4h-1zM753 229h1v3h-1zM754 226h1v3h-1zM755 222h1v4h-1zM756 219h1v3h-1zM757 215h1v4h-1zM758 211h1v4h-1zM759 207h1v4h-1zM760 202h1v5h-1zM761 198h1v4h-1zM762 194h1v4h-1zM763 190h1v4h-1zM764 186h1v4h-1zM765 182h1v4h-1zM766 180h1v2h-1zM767 179h1v1h-1zM768 177h1v2h-1zM769 176h1v1h-1zM770 175h1v1h-1zM771 176h2v1h-2zM773 177h2v1h-2zM775 178h1v1h-1zM776 179h1v2h-1zM777 181h1v1h-1zM778 182h1v1h-1zM779 183h1v1h-1zM780 184h1v1h-1zM781 185h1v1h-1zM782 186h1v2h-1zM783 188h1v2h-1zM784 190h1v3h-1zM785 193h1v2h-1zM786 195h1v3h-1zM787 198h1v3h-1zM788 201h1v2h-1zM789 203h1v3h-1zM790 206h1v2h-1zM791 208h1v2h-1zM792 210h1v2h-1zM793 212h1v2h-1zM794 214h1v1h-1zM795 215h1v2h-1zM796 217h1v2h-1zM797 219h1v2h-1zM798 221h1v2h-1zM799 223h1v2h-1zM800 225h1v2h-1zM801 227h1v2h-1zM802 229h1v1h-1zM802 230h2v1h-2zM804 231h7v1h-7zM811 229h1v2h-1zM812 228h1v1h-1zM813 226h1v2h-1zM814 225h1v1h-1zM815 224h1v1h-1zM816 223h1v1h-1zM817 222h1v1h-1zM818 221h1v1h-1zM819 222h1v1h-1zM820 223h1v1h-1zM821 224h1v1h-1zM822 225h1v1h-1zM823 226h1v1h-1zM824 227h1v2h-1zM825 229h1v1h-1zM826 230h1v1h-1zM827 231h1v1h-1zM828 232h1v2h-1zM829 234h1v1h-1zM830 235h1v1h-1zM831 236h1v2h-1zM832 238h1v1h-1zM833 239h1v2h-1zM834 241h1v2h-1zM835 243h1v2h-1zM836 245h1v2h-1zM837 247h1v2h-1zM838 249h1v2h-1zM839 251h1v2h-1zM840 253h1v1h-1zM841 254h1v2h-1zM842 256h1v2h-1zM843 258h1v2h-1zM844 260h1v2h-1zM845 262h1v2h-1zM846 264h1v2h-1zM847 266h1v2h-1zM848 268h1v2h-1zM849 270h1v2h-1zM850 272h1v2h-1zM851 274h1v3h-1zM852 277h1v2h-1zM853 279h1v3h-1zM854 282h1v3h-1zM855 285h1v2h-1zM856 287h1v2h-1zM857 289h1v2h-1zM858 291h1v2h-1zM859 293h1v2h-1zM860 295h1v1h-1zM861 296h1v2h-1zM862 298h2v1h-2zM864 297h3v1h-3zM867 295h1v2h-1zM868 293h1v2h-1zM869 291h1v2h-1zM870 289h1v2h-1zM871 287h1v2h-1zM872 285h1v2h-1zM873 283h1v2h-1zM874 280h1v3h-1zM875 277h1v3h-1zM876 275h1v2h-1zM877 272h1v3h-1zM878 271h1v1h-1z" fill="#ff0000" shape-rendering="crispEdges"/>
<path d="M6 454h2v1h-2zM8 453h1v1h-1zM12 452h3v1h-3zM18 452h3v1h-3zM24 452h3v1h-3zM30 452h3v1h-3zM36 452h3v1h-3zM42 451h2v1h-2zM44 450h1v1h-1zM48 449h3v1h-3zM54 446h1v1h-1zM55 445h1v1h-1zM56 444h1v1h-1zM60 440h1v2h-1zM61 439h1v1h-1zM65 435h1v1h-1zM66 434h1v1h-1zM67 433h1v1h-1zM70 429h1v1h-1zM71 428h1v1h-1zM72 427h1v1h-1zM76 423h2v1h-2zM78 422h1v1h-1zM82 420h3v1h-3zM88 420h3v1h-3zM94 422h1v1h-1zM95 423h2v1h-2zM100 425h1v1h-1zM101 426h2v1h-2zM106 427h3v1h-3zM112 426h1v1h-1zM113 425h2v1h-2zM118 423h1v1h-1zM119 422h1v1h-1zM120 421h1v1h-1zM124 418h2v1h-2zM126 417h1v1h-1zM130 414h1v1h-1zM131 413h1v1h-1zM132 412h1v1h-1zM136 410h1v1h-1zM137 409h2v1h-2zM142 409h2v1h-2zM144 410h1v1h-1zM148 412h2v1h-2zM150 413h1v1h-1zM154 417h1v1h-1zM155 418h1v1h-1zM156 419h1v1h-1zM160 423h1v2h-1zM161 425h1v1h-1zM164 429h1v1h-1zM165 430h1v2h-1zM169 435h1v1h-1zM170 436h1v1h-1zM171 437h1v1h-1zM175 441h1v1h-1zM176 442h2v1h-2zM181 445h1v1h-1zM182 446h1v1h-1zM183 447h1v1h-1zM187 448h1v1h-1zM188 449h2v1h-2zM193 450h3v1h-3zM199 451h3v1h-3zM205 452h3v1h-3zM211 454h2v1h-2zM213 455h1v1h-1zM217 457h1v1h-1zM218 458h1v1h-1zM219 459h1v1h-1zM223 461h2v1h-2zM225 462h1v1h-1zM229 464h1v1h-1zM230 465h1v1h-1zM231 466h1v1h-1zM235 468h2v1h-2zM237 469h1v1h-1zM241 471h2v1h-2zM243 472h1v1h-1zM247 474h1v1h-1zM248 475h2v1h-2zM253 476h3v1h-3zM259 474h2v1h-2zM261 473h1v1h-1zM265 471h2v1h-2zM267 470h1v1h-1zM271 467h1v1h-1zM272 466h2v1h-2zM277 462h1v1h-1zM278 461h1v1h-1zM279 460h1v1h-1zM283 456h1v1h-1zM284 455h2v1h-2zM289 452h3v1h-3zM295 451h3v1h-3zM301 452h2v1h-2zM303 453h1v1h-1zM307 455h2v1h-2zM309 456h1v1h-1zM313 458h1v1h-1zM314 459h1v1h-1zM315 460h1v1h-1zM319 461h1v1h-1zM320 462h2v1h-2zM325 463h3v1h-3zM331 463h3v1h-3zM337 463h3v1h-3zM343 464h1v1h-1zM344 465h2v1h-2zM349 467h2v1h-2zM351 468h1v1h-1zM355 471h2v1h-2zM357 472h1v1h-1zM361 474h1v1h-1zM362 475h2v1h-2zM367 477h2v1h-2zM369 478h1v1h-1zM373 479h3v1h-3zM379 478h1v1h-1zM380 477h2v1h-2zM385 476h2v1h-2zM387 475h1v1h-1zM391 472h1v1h-1zM392 471h2v1h-2zM397 468h2v1h-2zM399 467h1v1h-1zM403 464h2v1h-2zM405 463h1v1h-1zM409 461h2v1h-2zM411 460h1v1h-1zM415 459h1v1h-1zM416 458h2v1h-2zM421 457h3v1h-3zM427 457h1v1h-1zM428 458h2v1h-2zM433 459h3v1h-3zM439 461h2v1h-2zM441 462h1v1h-1zM445 464h2v1h-2zM447 465h1v1h-1zM451 468h2v1h-2zM453 469h1v1h-1zM457 470h3v1h-3zM463 471h3v1h-3zM469 471h3v1h-3zM475 469h2v1h-2zM477 468h1v1h-1zM481 466h2v1h-2zM483 465h1v1h-1zM487 462h1v1h-1zM488 461h2v1h-2zM493 458h1v1h-1zM494 457h1v1h-1zM495 456h1v1h-1zM499 453h1v1h-1zM500 452h1v1h-1zM501 451h1v1h-1zM505 448h1v1h-1zM506 447h1v1h-1zM507 446h1v1h-1zM510 442h1v1h-1zM511 441h1v1h-1zM512 440h1v1h-1zM515 435h1v2h-1zM516 434h1v1h-1zM519 430h1v1h-1zM520 429h1v1h-1zM521 428h1v1h-1zM525 424h1v1h-1zM526 423h1v1h-1zM527 422h1v1h-1zM531 418h1v1h-1zM532 417h2v1h-2zM537 414h3v1h-3zM543 413h3v1h-3zM549 414h3v1h-3zM555 414h1v1h-1zM556 415h2v1h-2zM561 415h3v1h-3zM567 415h1v1h-1zM568 416h2v1h-2zM573 416h2v1h-2zM575 417h1v1h-1zM579 419h2v1h-2zM581 420h1v1h-1zM585 422h2v1h-2zM587 423h1v1h-1zM591 427h1v1h-1zM592 428h1v1h-1zM593 429h1v1h-1zM597 433h1v1h-1zM598 434h1v1h-1zM599 435h1v1h-1zM602 439h1v1h-1zM603 440h1v1h-1zM604 441h1v1h-1zM608 445h2v1h-2zM610 446h1v1h-1zM614 448h1v1h-1zM615 449h2v1h-2zM620 450h3v1h-3zM626 450h3v1h-3zM632 449h3v1h-3zM638 449h3v1h-3zM644 449h3v1h-3zM650 449h2v1h-2zM652 450h1v1h-1zM656 451h3v1h-3zM662 452h3v1h-3zM668 451h3v1h-3zM674 450h2v1h-2zM676 449h1v1h-1zM680 448h1v1h-1zM681 447h2v1h-2zM686 445h1v1h-1zM687 444h2v1h-2zM692 442h1v1h-1zM693 441h2v1h-2zM698 439h1v1h-1zM699 438h2v1h-2zM704 436h1v1h-1zM705 435h2v1h-2zM710 434h1v1h-1zM711 433h2v1h-2zM716 431h1v1h-1zM717 430h2v1h-2zM722 428h1v1h-1zM723 427h2v1h-2zM728 426h3v1h-3zM734 425h2v1h-2zM736 426h1v1h-1zM740 427h3v1h-3zM746 428h2v1h-2zM748 429h1v1h-1zM752 429h3v1h-3zM758 429h2v1h-2zM760 428h1v1h-1zM764 427h1v1h-1zM765 426h2v1h-2zM770 424h1v1h-1zM771 423h1v1h-1zM772 422h1v1h-1zM776 420h1v1h-1zM777 419h2v1h-2zM782 417h2v1h-2zM784 416h1v1h-1zM788 416h3v1h-3zM794 417h1v1h-1zM795 418h2v1h-2zM800 420h1v1h-1zM801 421h2v1h-2zM806 424h1v1h-1zM807 425h1v1h-1zM808 426h1v1h-1zM812 428h1v1h-1zM813 429h2v1h-2zM818 432h1v1h-1zM819 433h2v1h-2zM824 435h1v1h-1zM825 436h2v1h-2zM830 438h1v1h-1zM831 439h2v1h-2zM836 441h3v1h-3zM842 444h1v1h-1zM843 445h2v1h-2zM848 448h2v1h-2zM850 449h1v1h-1zM854 452h1v1h-1zM855 453h1v1h-1zM856 454h1v1h-1zM860 457h2v1h-2zM862 458h1v1h-1zM866 460h1v1h-1zM867 461h2v1h-2zM872 463h1v1h-1zM873 464h2v1h-2z" fill="#ff0000" shape-rendering="crispEdges"/>
<path d="M6 540h1v1h-1zM7 539h1v1h-1zM8 538h2v1h-2zM10 537h1v1h-1zM11 538h1v1h-1zM12 539h2v1h-2zM14 540h1v1h-1zM15 541h1v1h-1zM16 542h2v1h-2zM18 543h1v1h-1zM19 544h1v2h-1zM20 546h1v1h-1zM21 547h1v2h-1zM22 549h5v1h-5zM27 548h1v1h-1zM28 547h2v1h-2zM30 546h1v1h-1zM31 545h1v1h-1zM32 543h1v2h-1zM33 542h1v1h-1zM34 541h1v1h-1zM35 539h1v2h-1zM36 538h1v1h-1zM37 536h1v2h-1zM38 535h1v1h-1zM39 534h1v1h-1zM40 533h1v1h-1zM41 532h1v1h-1zM42 531h2v1h-2zM44 530h3v1h-3zM47 528h1v2h-1zM48 527h1v1h-1zM49 525h1v2h-1zM50 524h1v1h-1zM51 523h1v1h-1zM52 522h2v1h-2zM54 521h1v1h-1zM55 520h2v1h-2zM57 519h2v1h-2zM59 520h1v2h-1zM60 522h1v1h-1zM61 523h1v2h-1zM62 525h6v1h-6zM68 526h3v1h-3zM71 527h1v2h-1zM72 529h1v2h-1zM73 531h1v2h-1zM74 533h1v2h-1zM75 535h1v2h-1zM76 537h1v2h-1zM77 539h1v2h-1zM78 541h1v1h-1zM78 542h2v1h-2zM80 543h3v1h-3zM83 542h1v1h-1zM84 541h1v1h-1zM85 540h1v1h-1zM86 539h1v1h-1zM87 540h1v1h-1zM88 541h1v2h-1zM89 543h1v1h-1zM90 544h1v1h-1zM91 543h1v1h-1zM92 542h2v1h-2zM94 541h1v1h-1zM95 539h1v2h-1zM96 537h1v2h-1zM97 535h1v2h-1zM98 533h1v2h-1zM99 532h1v1h-1zM100 530h1v2h-1zM101 529h1v1h-1zM102 528h1v1h-1zM103 527h1v1h-1zM104 526h2v1h-2zM106 525h1v1h-1zM107 524h2v1h-2zM109 523h3v1h-3zM112 524h7v1h-7zM119 525h1v1h-1zM120 526h2v1h-2zM122 527h2v1h-2zM124 526h7v1h-7zM130 527h1v1h-1zM131 528h1v3h-1zM132 531h1v2h-1zM133 533h1v3h-1zM134 536h1v1h-1zM134 537h2v1h-2zM136 538h3v1h-3zM139 539h1v1h-1zM140 540h1v1h-1zM141 541h1v1h-1zM142 542h1v1h-1zM143 541h2v1h-2zM145 540h2v1h-2zM147 541h1v2h-1zM148 543h1v2h-1zM149 545h1v2h-1zM150 547h1v1h-1zM150 548h2v1h-2zM152 547h3v1h-3zM155 548h2v1h-2zM157 549h6v1h-6zM162 548h1v1h-1zM163 546h1v2h-1zM164 544h1v2h-1zM165 542h1v2h-1zM166 540h6v1h-6zM166 541h1v1h-1zM172 541h3v1h-3zM175 540h1v1h-1zM176 539h2v1h-2zM178 538h1v1h-1zM179 539h2v1h-2zM181 540h2v1h-2zM183 541h1v2h-1zM184 543h1v2h-1zM185 545h1v2h-1zM186 547h1v1h-1zM187 546h1v1h-1zM188 545h1v1h-1zM189 544h1v1h-1zM190 543h2v1h-2zM192 544h4v1h-4zM196 545h8v1h-8zM204 546h3v1h-3zM207 547h1v2h-1zM208 549h1v2h-1zM209 551h1v2h-1zM210 553h2v1h-2zM212 554h3v1h-3zM215 553h1v1h-1zM216 552h2v1h-2zM218 551h1v1h-1zM219 552h1v1h-1zM220 553h1v1h-1zM221 554h1v1h-1zM222 555h2v1h-2zM224 554h3v1h-3zM227 553h1v1h-1zM228 552h1v1h-1zM229 551h1v1h-1zM230 550h2v1h-2zM232 549h3v1h-3zM235 550h1v1h-1zM236 551h2v1h-2zM238 552h1v1h-1zM239 553h1v2h-1zM240 555h1v1h-1zM241 556h1v1h-1zM241 557h2v1h-2zM242 558h1v1h-1zM243 555h1v2h-1zM244 553h1v2h-1zM245 551h1v2h-1zM246 549h5v1h-5zM246 550h1v1h-1zM250 548h1v1h-1zM251 545h1v3h-1zM252 542h1v3h-1zM253 539h1v3h-1zM254 537h5v1h-5zM254 538h1v1h-1zM259 536h1v1h-1zM260 534h1v2h-1zM261 533h1v1h-1zM262 532h1v1h-1zM263 533h1v1h-1zM264 534h1v1h-1zM265 535h1v1h-1zM266 536h1v1h-1zM267 535h2v1h-2zM269 534h2v1h-2zM271 535h2v1h-2zM273 536h6v1h-6zM279 537h1v1h-1zM280 538h1v1h-1zM281 539h1v1h-1zM282 540h1v1h-1zM283 541h1v1h-1zM284 542h1v2h-1zM285 544h1v1h-1zM286 545h1v1h-1zM287 546h1v1h-1zM288 547h1v1h-1zM289 548h1v1h-1zM290 549h2v1h-2zM292 550h4v1h-4zM296 549h8v1h-8zM304 550h4v1h-4zM308 549h4v1h-4zM312 550h3v1h-3zM314 549h1v1h-1zM315 546h1v3h-1zM316 544h1v2h-1zM317 541h1v3h-1zM318 539h2v1h-2zM318 540h1v1h-1zM320 540h3v1h-3zM323 541h1v1h-1zM324 542h1v1h-1zM325 543h1v1h-1zM326 544h1v1h-1zM327 545h1v1h-1zM328 546h2v1h-2zM330 547h2v1h-2zM332 548h3v1h-3zM335 549h1v1h-1zM336 550h2v1h-2zM338 551h1v1h-1zM339 552h1v2h-1zM340 554h1v1h-1zM341 555h1v2h-1zM342 557h2v1h-2zM344 558h4v1h-4zM348 559h7v1h-7zM354 558h1v1h-1zM355 555h1v3h-1zM356 553h1v2h-1zM357 550h1v3h-1zM358 548h1v2h-1zM359 547h1v1h-1zM360 546h2v1h-2zM362 545h6v1h-6zM368 546h3v1h-3zM371 545h1v1h-1zM372 544h1v1h-1zM373 543h1v1h-1zM374 542h1v1h-1zM375 543h2v1h-2zM377 544h2v1h-2zM379 545h1v1h-1zM380 546h1v2h-1zM381 548h2v1h-2zM382 549h1v1h-1zM383 545h1v3h-1zM384 543h1v2h-1zM385 540h1v3h-1zM386 538h6v1h-6zM386 539h1v1h-1zM392 539h3v1h-3zM395 540h1v2h-1zM396 542h1v2h-1zM397 544h1v2h-1zM398 546h1v1h-1zM399 544h1v2h-1zM400 542h1v2h-1zM401 540h1v2h-1zM402 539h6v1h-6zM408 540h3v1h-3zM411 541h1v2h-1zM412 543h1v1h-1zM413 544h1v2h-1zM414 546h1v1h-1zM415 545h2v1h-2zM417 544h2v1h-2zM419 545h1v1h-1zM420 546h2v1h-2zM422 547h1v1h-1zM423 546h1v1h-1zM424 545h1v1h-1zM425 544h1v1h-1zM426 543h1v1h-1zM427 544h1v2h-1zM428 546h1v2h-1zM429 548h1v2h-1zM430 550h13v1h-13zM443 551h1v1h-1zM444 552h2v1h-2zM446 553h1v1h-1zM447 552h1v1h-1zM448 551h1v1h-1zM449 550h1v1h-1zM450 549h1v1h-1zM451 548h1v1h-1zM452 547h2v1h-2zM454 546h1v1h-1zM455 544h1v2h-1zM456 543h1v1h-1zM457 541h1v2h-1zM458 540h1v1h-1zM459 541h2v1h-2zM461 542h3v1h-3zM464 541h7v1h-7zM471 542h1v1h-1zM472 543h1v1h-1zM473 544h1v1h-1zM474 545h1v1h-1zM475 544h1v1h-1zM476 543h1v1h-1zM477 542h1v1h-1zM478 541h1v1h-1zM479 539h1v2h-1zM480 538h1v1h-1zM481 536h1v2h-1zM482 535h1v1h-1zM483 534h2v1h-2zM485 533h3v1h-3zM488 532h3v1h-3zM491 533h1v1h-1zM492 534h2v1h-2zM494 535h2v1h-2zM496 534h3v1h-3zM499 533h1v1h-1zM500 531h1v2h-1zM501 530h1v1h-1zM502 529h1v1h-1zM503 528h1v1h-1zM504 526h1v2h-1zM505 525h1v1h-1zM506 524h1v1h-1zM507 523h1v1h-1zM508 522h2v1h-2zM510 521h5v1h-5zM515 522h1v1h-1zM516 523h2v1h-2zM518 524h2v1h-2zM520 525h3v1h-3zM523 526h1v1h-1zM524 527h1v1h-1zM525 528h1v1h-1zM526 529h1v1h-1zM527 530h1v1h-1zM528 531h1v1h-1zM529 532h1v1h-1zM530 533h1v1h-1zM531 534h2v1h-2zM533 535h3v1h-3zM536 536h3v1h-3zM539 535h2v1h-2zM541 534h2v1h-2zM543 533h1v1h-1zM544 532h1v1h-1zM545 531h1v1h-1zM546 530h2v1h-2zM548 529h3v1h-3zM551 528h1v1h-1zM552 527h1v1h-1zM553 526h1v1h-1zM554 525h2v1h-2zM556 524h4v1h-4zM560 525h3v1h-3zM563 526h2v1h-2zM565 527h2v1h-2zM566 528h1v1h-1zM567 529h1v4h-1zM568 533h1v4h-1zM569 537h1v4h-1zM570 541h1v1h-1zM570 542h2v1h-2zM572 541h3v1h-3zM575 542h1v1h-1zM576 543h1v1h-1zM577 544h1v1h-1zM578 545h1v1h-1zM579 546h1v1h-1zM580 547h2v1h-2zM582 548h5v1h-5zM587 547h2v1h-2zM589 546h2v1h-2zM591 547h1v1h-1zM592 548h2v1h-2zM594 549h6v1h-6zM600 550h3v1h-3zM602 549h1v1h-1zM603 547h1v2h-1zM604 544h1v3h-1zM605 542h1v2h-1zM606 540h5v1h-5zM606 541h1v1h-1zM611 539h1v1h-1zM612 537h1v2h-1zM613 536h1v1h-1zM614 535h2v1h-2zM616 536h3v1h-3zM619 537h2v1h-2zM621 538h2v1h-2zM623 537h2v1h-2zM625 536h2v1h-2zM627 537h1v2h-1zM628 539h1v2h-1zM629 541h1v2h-1zM630 543h1v1h-1zM630 544h2v1h-2zM632 545h3v1h-3zM635 546h2v1h-2zM637 547h6v1h-6zM643 548h2v1h-2zM645 549h2v1h-2zM647 548h2v1h-2zM649 547h2v1h-2zM651 546h1v1h-1zM652 544h1v2h-1zM653 543h1v1h-1zM654 542h1v1h-1zM655 543h2v1h-2zM657 544h2v1h-2zM658 543h1v1h-1zM659 541h1v2h-1zM660 538h1v3h-1zM661 536h1v2h-1zM662 534h1v2h-1zM663 533h2v1h-2zM665 532h3v1h-3zM668 531h4v1h-4zM672 530h3v1h-3zM674 531h1v1h-1zM675 532h1v2h-1zM676 534h1v2h-1zM677 536h1v2h-1zM678 538h1v1h-1zM678 539h5v1h-5zM683 538h1v1h-1zM684 537h1v1h-1zM685 536h1v1h-1zM686 535h1v1h-1zM687 534h1v1h-1zM688 533h2v1h-2zM690 532h2v1h-2zM692 533h3v1h-3zM695 532h1v1h-1zM696 530h1v2h-1zM697 529h1v1h-1zM698 528h1v1h-1zM699 527h1v1h-1zM700 526h2v1h-2zM702 525h1v1h-1zM703 526h1v1h-1zM704 527h1v1h-1zM705 528h1v1h-1zM706 529h1v1h-1zM707 528h2v1h-2zM709 527h2v1h-2zM711 526h1v1h-1zM712 525h2v1h-2zM714 524h1v1h-1zM715 525h1v2h-1zM716 527h1v2h-1zM717 529h1v2h-1zM718 531h1v1h-1zM719 532h2v1h-2zM721 533h2v1h-2zM723 534h1v2h-1zM724 536h1v1h-1zM725 537h1v2h-1zM726 539h1v1h-1zM727 540h1v1h-1zM728 541h2v1h-2zM730 542h1v1h-1zM731 541h1v1h-1zM732 540h1v1h-1zM733 539h1v1h-1zM734 538h6v1h-6zM740 539h3v1h-3zM743 538h1v1h-1zM744 537h2v1h-2zM746 535h1v2h-1zM747 533h1v2h-1zM748 530h1v3h-1zM749 528h1v2h-1zM750 526h1v2h-1zM751 525h2v1h-2zM753 524h2v1h-2zM755 523h2v1h-2zM757 522h2v1h-2zM759 521h2v1h-2zM761 520h3v1h-3zM764 521h3v1h-3zM767 522h1v1h-1zM768 523h1v1h-1zM769 524h1v1h-1zM770 525h1v1h-1zM771 526h1v2h-1zM772 528h1v2h-1zM773 530h1v2h-1zM774 532h1v1h-1zM774 533h5v1h-5zM779 532h1v1h-1zM780 531h1v1h-1zM781 530h2v1h-2zM782 529h1v1h-1zM783 531h1v2h-1zM784 533h1v2h-1zM785 535h1v2h-1zM786 537h1v2h-1zM787 539h1v1h-1zM788 540h2v1h-2zM790 541h1v1h-1zM791 542h1v1h-1zM792 543h2v1h-2zM794 544h1v1h-1zM795 543h2v1h-2zM797 542h2v1h-2zM799 541h2v1h-2zM801 540h2v1h-2zM803 539h2v1h-2zM805 538h2v1h-2zM807 539h1v1h-1zM808 540h2v1h-2zM810 541h1v1h-1zM811 539h1v2h-1zM812 538h1v1h-1zM813 536h1v2h-1zM814 535h1v1h-1zM815 536h2v1h-2zM817 537h2v1h-2zM819 538h1v2h-1zM820 540h1v2h-1zM821 542h1v2h-1zM822 544h1v1h-1zM822 545h6v1h-6zM828 546h3v1h-3zM831 545h1v1h-1zM832 544h2v1h-2zM834 543h1v1h-1zM835 544h1v1h-1zM836 545h2v1h-2zM838 546h1v1h-1zM839 547h1v1h-1zM840 548h1v1h-1zM841 549h1v1h-1zM842 550h1v1h-1zM843 551h1v1h-1zM844 552h2v1h-2zM846 553h2v1h-2zM848 552h3v1h-3zM851 553h2v1h-2zM853 554h3v1h-3zM856 555h7v1h-7zM862 554h1v1h-1zM863 552h1v2h-1zM864 550h1v2h-1zM865 548h1v2h-1zM866 546h1v2h-1zM867 544h1v2h-1zM868 542h1v2h-1zM869 540h1v2h-1zM870 538h2v1h-2zM870 539h1v1h-1zM872 537h4v1h-4zM876 538h2v1h-2z" fill="#1e90ff" shape-rendering="crispEdges"/>
<g shape-rendering="crispEdges">
<rect x="6" y="122" width="1102" height="2" fill="#ff0000"/>
<rect x="6" y="177" width="1102" height="2" fill="#ff0000"/>
<rect x="6" y="241" width="1102" height="2" fill="#32cd32"/>
<rect x="6" y="306" width="1102" height="2" fill="#0000cd"/>
<rect x="6" y="383" width="1102" height="2" fill="#0000cd"/>
<rect x="5" y="175" width="6" height="6" fill="#ff0000"/>
<rect x="7" y="177" width="2" height="2" fill="#fff"/>
<rect x="1102" y="175" width="6" height="6" fill="#ff0000"/>
<rect x="1104" y="177" width="2" height="2" fill="#fff"/>
<rect x="5" y="239" width="6" height="6" fill="#32cd32"/>
<rect x="7" y="241" width="2" height="2" fill="#fff"/>
<rect x="1102" y="239" width="6" height="6" fill="#32cd32"/>
<rect x="1104" y="241" width="2" height="2" fill="#fff"/>
<rect x="5" y="381" width="6" height="6" fill="#0000cd"/>
<rect x="7" y="383" width="2" height="2" fill="#fff"/>
<rect x="1102" y="381" width="6" height="6" fill="#0000cd"/>
<rect x="1104" y="383" width="2" height="2" fill="#fff"/>
<rect x="5" y="23" width="1104" height="1" fill="#000"/>
<rect x="5" y="395" width="1104" height="1" fill="#000"/>
<rect x="5" y="23" width="1" height="373" fill="#000"/>
<rect x="1108" y="23" width="1" height="373" fill="#000"/>
<rect x="5" y="397" width="1104" height="1" fill="#000"/>
<rect x="5" y="491" width="1104" height="1" fill="#000"/>
<rect x="5" y="397" width="1" height="95" fill="#000"/>
<rect x="1108" y="397" width="1" height="95" fill="#000"/>
<rect x="5" y="493" width="1104" height="1" fill="#000"/>
<rect x="5" y="583" width="1104" height="1" fill="#000"/>
<rect x="5" y="493" width="1" height="91" fill="#000"/>
<rect x="1108" y="493" width="1" height="91" fill="#000"/>
<rect x="1108" y="122" width="1" height="2" fill="#ff0000"/>
<rect x="1108" y="177" width="1" height="2" fill="#ff0000"/>
<rect x="1108" y="241" width="1" height="2" fill="#32cd32"/>
<rect x="1108" y="306" width="1" height="2" fill="#0000cd"/>
<rect x="1108" y="383" width="1" height="2" fill="#0000cd"/>
<rect x="1108" y="253" width="1" height="1" fill="#fff"/>
<rect x="5" y="175" width="1" height="6" fill="#ff0000"/>
<rect x="5" y="239" width="1" height="6" fill="#32cd32"/>
<rect x="5" y="381" width="1" height="6" fill="#0000cd"/>
</g>
<text x="1114.5 1119.5 1122.5 1127.5 1132.5 1137.5 1142.5" y="33">1.14310</text>
<text x="1114.5 1119.5 1122.5 1127.5 1132.5 1137.5 1142.5" y="66">1.13800</text>
<text x="1114.5 1119.5 1122.5 1127.5 1132.5 1137.5 1142.5" y="99">1.13290</text>
<text x="1114.5 1119.5 1122.5 1127.5 1132.5 1137.5 1142.5" y="132">1.12780</text>
<text x="1114.5 1119.5 1122.5 1127.5 1132.5 1137.5 1142.5" y="165">1.12255</text>
<text x="1114.5 1119.5 1122.5 1127.5 1132.5 1137.5 1142.5" y="198">1.11745</text>
<text x="1114.5 1119.5 1122.5 1127.5 1132.5 1137.5 1142.5" y="231">1.11235</text>
<text x="1114.5 1119.5 1122.5 1127.5 1132.5 1137.5 1142.5" y="264">1.10725</text>
<text x="1114.5 1119.5 1122.5 1127.5 1132.5 1137.5 1142.5" y="297">1.10215</text>
<text x="1114.5 1119.5 1122.5 1127.5 1132.5 1137.5 1142.5" y="330">1.09705</text>
<text x="1114.5 1119.5 1122.5 1127.5 1132.5 1137.5 1142.5" y="363">1.09195</text>
<text x="1114.5 1119.5 1122.5 1127.5 1132.5 1137.5 1142.5" y="396">1.08685</text>
<g shape-rendering="crispEdges">
<rect x="1110" y="117" width="41" height="11" fill="#ff0000"/>
<rect x="1110" y="172" width="41" height="11" fill="#ff0000"/>
<rect x="1110" y="236" width="41" height="11" fill="#32cd32"/>
<rect x="1110" y="248" width="41" height="11" fill="#000000"/>
<rect x="1110" y="301" width="41" height="11" fill="#0000cd"/>
<rect x="1110" y="378" width="41" height="11" fill="#0000cd"/>
</g>
<text class="wt" x="1114.5 1119.5 1122.5 1127.5 1132.5 1137.5 1142.5" y="126">1.12854</text>
<text class="wt" x="1114.5 1119.5 1122.5 1127.5 1132.5 1137.5 1142.5" y="181">1.12003</text>
<text class="wt" x="1114.5 1119.5 1122.5 1127.5 1132.5 1137.5 1142.5" y="245">1.11004</text>
<text class="wt" x="1114.5 1119.5 1122.5 1127.5 1132.5 1137.5 1142.5" y="257">1.10834</text>
<text class="wt" x="1114.5 1119.5 1122.5 1127.5 1132.5 1137.5 1142.5" y="310">1.10004</text>
<text class="wt" x="1114.5 1119.5 1122.5 1127.5 1132.5 1137.5 1142.5" y="387">1.08802</text>
<text x="1112 1117 1120 1125 1130 1135 1140" y="408">0.00463</text>
<text x="1112 1117 1120 1125" y="445">0.00</text>
<text x="1112 1115 1120 1123 1128 1133 1138 1143 1148" y="488">-0.005299</text>
<text x="1112 1117 1122" y="504">100</text>
<text x="1112 1117" y="525">70</text>
<text x="1112 1117" y="560">30</text>
<text x="1112" y="580">0</text>
<path d="M9 30h7v1h-7zM10 31h5v1h-5zM11 32h3v1h-3zM12 33h1v1h-1z" fill="#000" shape-rendering="crispEdges"/>
<text x="21 27 34 41 48 54 61 64 71 76 78 80 85 88 91 96 99 104 109 114 119 124 127 132 135 140 145 150 155 160 163 168 171 176 181 186 191 196 199 204 207 212 217 222 227" y="35">EURUSD,Daily  1.10829 1.10900 1.10793 1.10834</text>
<text x="10 18.5 24.5 31.5 38.5 41.5 46.5 51.5 54.5 59.5 64.5 67.5 72.5 75.5 78.5 81.5 86.5 89.5 94.5 99.5 104.5 109.5 114.5 119.5 122.5 125.5 130.5 133.5 138.5 143.5 148.5 153.5 158.5" y="410">MACD(12,26,9) -0.001713 -0.002462</text>
<text x="10 17 23 26 29 34 39 42 45 50 55 58 63 68 73" y="506">RSI(14) 50.8429</text>
<text x="5 10 15 18 26.5 31.5 36.5 39.5 44.5 49.5 54.5" y="596">24 May 2019</text>
<text x="69 74 79 82 86 91 96 99 104 109 114" y="596">12 Jun 2019</text>
<text x="133 138 141 145 150 152 155 160 165 170" y="596">1 Jul 2019</text>
<text x="197 202 207 210 214 219 221 224 229 234 239" y="596">19 Jul 2019</text>
<text x="261 266 269 276 281 286 289 294 299 304" y="596">7 Aug 2019</text>
<text x="325 330 335 338 345 350 355 358 363 368 373" y="596">26 Aug 2019</text>
<text x="389 394 399 402 408 413 418 421 426 431 436" y="596">13 Sep 2019</text>
<text x="453 458 461 468 473 476 479 484 489 494" y="596">2 Oct 2019</text>
<text x="517 522 527 530 537 542 545 548 553 558 563" y="596">21 Oct 2019</text>
<text x="581 586 589 596 601 607 610 615 620 625" y="596">8 Nov 2019</text>
<text x="645 650 655 658 665 670 676 679 684 689 694" y="596">27 Nov 2019</text>
<text x="709 714 719 722 729 734 738 741 746 751 756" y="596">16 Dec 2019</text>
<text x="773 778 781 785 790 795 798 803 808 813" y="596">3 Jan 2020</text>
<text x="837 842 847 850 854 859 864 867 872 877 882" y="596">22 Jan 2020</text>
<text class="tb" x="15" y="11">H4</text>
<text class="tb" x="44" y="11">D1</text>
<text class="tb" x="72" y="11">W1</text>
<text class="tb" x="98" y="11">MN</text>
<g shape-rendering="crispEdges">
<rect x="1" y="607" width="1" height="18" fill="#a0a0a0"/>
<rect x="2" y="607" width="1" height="18" fill="#696969"/>
<rect x="3" y="607" width="4" height="18" fill="#fff"/>
<rect x="4" y="608" width="2" height="17" fill="#ececec"/>
<rect x="8" y="605" width="102" height="19" fill="#fff"/>
<rect x="7" y="606" width="1" height="19" fill="#000"/>
<rect x="110" y="606" width="1" height="19" fill="#000"/>
<rect x="8" y="624" width="102" height="1" fill="#000"/>
<rect x="215" y="609" width="1" height="14" fill="#7a7a7a"/>
<rect x="315" y="609" width="1" height="14" fill="#7a7a7a"/>
<rect x="419" y="609" width="1" height="14" fill="#7a7a7a"/>
<rect x="523" y="609" width="1" height="14" fill="#7a7a7a"/>
<rect x="611" y="609" width="1" height="14" fill="#7a7a7a"/>
<rect x="703" y="609" width="1" height="14" fill="#7a7a7a"/>
<rect x="796" y="609" width="1" height="14" fill="#7a7a7a"/>
</g>
<text class="tabA" x="18.5" y="621" textLength="81.1" lengthAdjust="spacingAndGlyphs">EURUSD,Daily</text>
<text class="tab" x="121.5" y="621" textLength="83.1" lengthAdjust="spacingAndGlyphs">AUDUSD,Daily</text>
<text class="tab" x="224.7" y="621" textLength="79.9" lengthAdjust="spacingAndGlyphs">USDCHF,Daily</text>
<text class="tab" x="325.5" y="621" textLength="82.1" lengthAdjust="spacingAndGlyphs">USDCAD,Daily</text>
<text class="tab" x="428.7" y="621" textLength="83.9" lengthAdjust="spacingAndGlyphs">USDCNH,Daily</text>
<text class="tab" x="532.2" y="621" textLength="68.5" lengthAdjust="spacingAndGlyphs">EURGBP,H4</text>
<text class="tab" x="621.1" y="621" textLength="71.3" lengthAdjust="spacingAndGlyphs">NZDUSD,H1</text>
<text class="tab" x="714.3" y="621" textLength="69.5" lengthAdjust="spacingAndGlyphs">GBPUSD,H4</text>
<path d="M1127 612v7l-3.5-3.5z" fill="#8c8c8c"/><path d="M1143.3 612v7l3.5-3.5z" fill="#8c8c8c"/>
</svg></body></html>
